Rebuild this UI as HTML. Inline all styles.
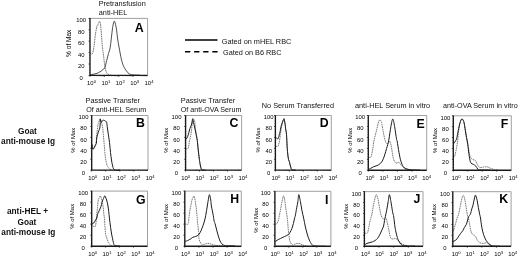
<!DOCTYPE html>
<html><head><meta charset="utf-8"><style>
html,body{margin:0;padding:0;background:#fff;width:520px;height:257px;overflow:hidden}
svg{display:block;filter:blur(0.3px)}
text{font-family:"Liberation Sans", sans-serif;fill:#111}
.ti{font-size:7.3px}
.rl{font-size:8.3px;font-weight:bold}
.pl{font-weight:bold;fill:#000}
.tk{font-size:5.9px;fill:#000}
.sp{font-size:4.2px}
.yl{font-size:6.3px;fill:#000}
.ax{stroke:#111;stroke-width:0.8}
.mt{stroke:#333;stroke-width:0.5}
.fr{fill:none;stroke:#888;stroke-width:0.8}
.axb{fill:none;stroke:#1a1a1a;stroke-width:1.35}
.s{fill:none;stroke:#1a1a1a;stroke-width:1;stroke-linejoin:round}
.d{fill:none;stroke:#555;stroke-width:0.8;stroke-linejoin:round;stroke-dasharray:1.6 0.7}
.sa{fill:none;stroke:#222;stroke-width:0.8;stroke-linejoin:round}
.da{fill:none;stroke:#444;stroke-width:0.75;stroke-linejoin:round;stroke-dasharray:1.6 0.7}
.dd{fill:none;stroke:#222;stroke-width:1.0;stroke-dasharray:2 1.2}
</style></head><body>
<svg width="520" height="257" viewBox="0 0 520 257">

<text x="98.7" y="6" class="ti">Pretransfusion</text>
<text x="98.8" y="14.7" class="ti">anti-HEL</text>
<text x="85.6" y="103" class="ti">Passive Transfer</text>
<text x="86.2" y="111.7" class="ti" style="font-size:7.15px">Of anti-HEL Serum</text>
<text x="180.8" y="103" class="ti">Passive Transfer</text>
<text x="180.8" y="111.7" class="ti" style="font-size:7.15px">Of anti-OVA Serum</text>
<text x="261.8" y="107.7" class="ti">No Serum Transferred</text>
<text x="355" y="107.5" class="ti">anti-HEL Serum in vitro</text>
<text x="443.1" y="107.6" class="ti" style="font-size:7.2px">anti-OVA Serum in vitro</text>
<text x="221.8" y="44.3" class="ti">Gated on mHEL RBC</text>
<text x="223" y="54.8" class="ti">Gated on B6 RBC</text>
<line x1="185" y1="40" x2="217.5" y2="40" stroke="#000" stroke-width="1.6"/>
<line x1="185" y1="51.7" x2="218" y2="51.7" stroke="#000" stroke-width="1.6" stroke-dasharray="5.3 3.8"/>
<text x="27.4" y="133.9" class="rl" text-anchor="middle">Goat</text>
<text x="28" y="144.4" class="rl" text-anchor="middle">anti-mouse Ig</text>
<text x="27.5" y="214.1" class="rl" text-anchor="middle">anti-HEL +</text>
<text x="26.9" y="224.6" class="rl" text-anchor="middle">Goat</text>
<text x="28.3" y="234.5" class="rl" text-anchor="middle">anti-mouse Ig</text>

<text x="81.2" y="79.75" class="tk" text-anchor="middle">0</text>
<text x="81.2" y="68.23" class="tk" text-anchor="middle">20</text>
<text x="81.2" y="56.71" class="tk" text-anchor="middle">40</text>
<text x="81.2" y="45.19" class="tk" text-anchor="middle">60</text>
<text x="81.2" y="33.67" class="tk" text-anchor="middle">80</text>
<text x="81.2" y="22.15" class="tk" text-anchor="middle">100</text>
<line x1="88.6" y1="75.4" x2="90" y2="75.4" class="ax"/>
<line x1="88.6" y1="64" x2="90" y2="64" class="ax"/>
<line x1="88.6" y1="52.6" x2="90" y2="52.6" class="ax"/>
<line x1="88.6" y1="41.2" x2="90" y2="41.2" class="ax"/>
<line x1="88.6" y1="29.8" x2="90" y2="29.8" class="ax"/>
<line x1="88.6" y1="18.4" x2="90" y2="18.4" class="ax"/>
<line x1="89.1" y1="72.55" x2="90" y2="72.55" class="mt"/>
<line x1="89.1" y1="69.7" x2="90" y2="69.7" class="mt"/>
<line x1="89.1" y1="66.85" x2="90" y2="66.85" class="mt"/>
<line x1="89.1" y1="61.15" x2="90" y2="61.15" class="mt"/>
<line x1="89.1" y1="58.3" x2="90" y2="58.3" class="mt"/>
<line x1="89.1" y1="55.45" x2="90" y2="55.45" class="mt"/>
<line x1="89.1" y1="49.75" x2="90" y2="49.75" class="mt"/>
<line x1="89.1" y1="46.9" x2="90" y2="46.9" class="mt"/>
<line x1="89.1" y1="44.05" x2="90" y2="44.05" class="mt"/>
<line x1="89.1" y1="38.35" x2="90" y2="38.35" class="mt"/>
<line x1="89.1" y1="35.5" x2="90" y2="35.5" class="mt"/>
<line x1="89.1" y1="32.65" x2="90" y2="32.65" class="mt"/>
<line x1="89.1" y1="26.95" x2="90" y2="26.95" class="mt"/>
<line x1="89.1" y1="24.1" x2="90" y2="24.1" class="mt"/>
<line x1="89.1" y1="21.25" x2="90" y2="21.25" class="mt"/>
<text x="87.1" y="84.9" class="tk">10<tspan class="sp" dy="-1.7">0</tspan></text>
<text x="101.47" y="84.9" class="tk">10<tspan class="sp" dy="-1.7">1</tspan></text>
<text x="115.85" y="84.9" class="tk">10<tspan class="sp" dy="-1.7">2</tspan></text>
<text x="130.22" y="84.9" class="tk">10<tspan class="sp" dy="-1.7">3</tspan></text>
<text x="144.6" y="84.9" class="tk">10<tspan class="sp" dy="-1.7">4</tspan></text>
<line x1="94.33" y1="75.4" x2="94.33" y2="76.3" class="mt"/>
<line x1="96.87" y1="75.4" x2="96.87" y2="76.3" class="mt"/>
<line x1="98.67" y1="75.4" x2="98.67" y2="76.3" class="mt"/>
<line x1="100.07" y1="75.4" x2="100.07" y2="76.3" class="mt"/>
<line x1="101.21" y1="75.4" x2="101.21" y2="76.3" class="mt"/>
<line x1="102.17" y1="75.4" x2="102.17" y2="76.3" class="mt"/>
<line x1="103" y1="75.4" x2="103" y2="76.3" class="mt"/>
<line x1="103.74" y1="75.4" x2="103.74" y2="76.3" class="mt"/>
<line x1="90" y1="75.4" x2="90" y2="76.8" class="ax"/>
<line x1="108.73" y1="75.4" x2="108.73" y2="76.3" class="mt"/>
<line x1="111.27" y1="75.4" x2="111.27" y2="76.3" class="mt"/>
<line x1="113.07" y1="75.4" x2="113.07" y2="76.3" class="mt"/>
<line x1="114.47" y1="75.4" x2="114.47" y2="76.3" class="mt"/>
<line x1="115.61" y1="75.4" x2="115.61" y2="76.3" class="mt"/>
<line x1="116.57" y1="75.4" x2="116.57" y2="76.3" class="mt"/>
<line x1="117.4" y1="75.4" x2="117.4" y2="76.3" class="mt"/>
<line x1="118.14" y1="75.4" x2="118.14" y2="76.3" class="mt"/>
<line x1="104.4" y1="75.4" x2="104.4" y2="76.8" class="ax"/>
<line x1="123.13" y1="75.4" x2="123.13" y2="76.3" class="mt"/>
<line x1="125.67" y1="75.4" x2="125.67" y2="76.3" class="mt"/>
<line x1="127.47" y1="75.4" x2="127.47" y2="76.3" class="mt"/>
<line x1="128.87" y1="75.4" x2="128.87" y2="76.3" class="mt"/>
<line x1="130.01" y1="75.4" x2="130.01" y2="76.3" class="mt"/>
<line x1="130.97" y1="75.4" x2="130.97" y2="76.3" class="mt"/>
<line x1="131.8" y1="75.4" x2="131.8" y2="76.3" class="mt"/>
<line x1="132.54" y1="75.4" x2="132.54" y2="76.3" class="mt"/>
<line x1="118.8" y1="75.4" x2="118.8" y2="76.8" class="ax"/>
<line x1="137.53" y1="75.4" x2="137.53" y2="76.3" class="mt"/>
<line x1="140.07" y1="75.4" x2="140.07" y2="76.3" class="mt"/>
<line x1="141.87" y1="75.4" x2="141.87" y2="76.3" class="mt"/>
<line x1="143.27" y1="75.4" x2="143.27" y2="76.3" class="mt"/>
<line x1="144.41" y1="75.4" x2="144.41" y2="76.3" class="mt"/>
<line x1="145.37" y1="75.4" x2="145.37" y2="76.3" class="mt"/>
<line x1="146.2" y1="75.4" x2="146.2" y2="76.3" class="mt"/>
<line x1="146.94" y1="75.4" x2="146.94" y2="76.3" class="mt"/>
<line x1="133.2" y1="75.4" x2="133.2" y2="76.8" class="ax"/>
<text x="0" y="0" class="yl" text-anchor="middle" style="font-size:6.55px" transform="translate(71.16,43.25) rotate(-90)">% of Max</text>
<path d="M90 18.4H147.6V75.4" class="fr"/>
<path d="M90 53.5C90.4 53.53 91.73 54.92 92.4 53.7C93.07 52.48 93.48 49.53 94 46.2C94.52 42.87 94.97 37.15 95.5 33.7C96.03 30.25 96.75 27.03 97.2 25.5C97.65 23.97 97.87 25.15 98.2 24.5C98.53 23.85 98.85 21.85 99.2 21.6C99.55 21.35 99.98 21.6 100.3 23C100.62 24.4 100.77 26.23 101.1 30C101.43 33.77 101.88 41.27 102.3 45.6C102.72 49.93 103.18 52.6 103.6 56C104.02 59.4 104.32 63.25 104.8 66C105.28 68.75 105.88 71.07 106.5 72.5C107.12 73.93 107.75 74.15 108.5 74.6C109.25 75.05 110.58 75.1 111 75.2" class="da"/>
<path d="M90 75C90.5 74.88 91.83 74.58 93 74.3C94.17 74.02 95.83 73.72 97 73.3C98.17 72.88 99 72.43 100 71.8C101 71.17 102.2 70.17 103 69.5C103.8 68.83 104.18 69.3 104.8 67.8C105.42 66.3 106.08 62.88 106.7 60.5C107.32 58.12 107.92 55.68 108.5 53.5C109.08 51.32 109.57 51.32 110.2 47.4C110.83 43.48 111.78 33.9 112.3 30C112.82 26.1 112.98 25.47 113.3 24C113.62 22.53 113.88 21.37 114.2 21.2C114.52 21.03 114.8 21.53 115.2 23C115.6 24.47 116.22 27.5 116.6 30C116.98 32.5 117.1 35.17 117.5 38C117.9 40.83 118.53 44.33 119 47C119.47 49.67 119.92 52 120.3 54C120.68 56 120.9 57.33 121.3 59C121.7 60.67 122.23 62.63 122.7 64C123.17 65.37 123.47 66.03 124.1 67.2C124.73 68.37 125.67 69.9 126.5 71C127.33 72.1 128.05 73.15 129.1 73.8C130.15 74.45 130.98 74.67 132.8 74.9C134.62 75.13 138.8 75.15 140 75.2" class="sa"/>
<path d="M90 18.1V75.4H147.6" class="axb"/>
<text x="83.5" y="174.75" class="tk" text-anchor="middle">0</text>
<text x="83.5" y="163.67" class="tk" text-anchor="middle">20</text>
<text x="83.5" y="152.59" class="tk" text-anchor="middle">40</text>
<text x="83.5" y="141.51" class="tk" text-anchor="middle">60</text>
<text x="83.5" y="130.43" class="tk" text-anchor="middle">80</text>
<text x="83.5" y="119.35" class="tk" text-anchor="middle">100</text>
<line x1="90.3" y1="170.1" x2="91.7" y2="170.1" class="ax"/>
<line x1="90.3" y1="159.18" x2="91.7" y2="159.18" class="ax"/>
<line x1="90.3" y1="148.26" x2="91.7" y2="148.26" class="ax"/>
<line x1="90.3" y1="137.34" x2="91.7" y2="137.34" class="ax"/>
<line x1="90.3" y1="126.42" x2="91.7" y2="126.42" class="ax"/>
<line x1="90.3" y1="115.5" x2="91.7" y2="115.5" class="ax"/>
<line x1="90.8" y1="167.37" x2="91.7" y2="167.37" class="mt"/>
<line x1="90.8" y1="164.64" x2="91.7" y2="164.64" class="mt"/>
<line x1="90.8" y1="161.91" x2="91.7" y2="161.91" class="mt"/>
<line x1="90.8" y1="156.45" x2="91.7" y2="156.45" class="mt"/>
<line x1="90.8" y1="153.72" x2="91.7" y2="153.72" class="mt"/>
<line x1="90.8" y1="150.99" x2="91.7" y2="150.99" class="mt"/>
<line x1="90.8" y1="145.53" x2="91.7" y2="145.53" class="mt"/>
<line x1="90.8" y1="142.8" x2="91.7" y2="142.8" class="mt"/>
<line x1="90.8" y1="140.07" x2="91.7" y2="140.07" class="mt"/>
<line x1="90.8" y1="134.61" x2="91.7" y2="134.61" class="mt"/>
<line x1="90.8" y1="131.88" x2="91.7" y2="131.88" class="mt"/>
<line x1="90.8" y1="129.15" x2="91.7" y2="129.15" class="mt"/>
<line x1="90.8" y1="123.69" x2="91.7" y2="123.69" class="mt"/>
<line x1="90.8" y1="120.96" x2="91.7" y2="120.96" class="mt"/>
<line x1="90.8" y1="118.23" x2="91.7" y2="118.23" class="mt"/>
<text x="88.2" y="179.7" class="tk">10<tspan class="sp" dy="-1.7">0</tspan></text>
<text x="102.58" y="179.7" class="tk">10<tspan class="sp" dy="-1.7">1</tspan></text>
<text x="116.95" y="179.7" class="tk">10<tspan class="sp" dy="-1.7">2</tspan></text>
<text x="131.32" y="179.7" class="tk">10<tspan class="sp" dy="-1.7">3</tspan></text>
<text x="145.7" y="179.7" class="tk">10<tspan class="sp" dy="-1.7">4</tspan></text>
<line x1="95.94" y1="170.1" x2="95.94" y2="171" class="mt"/>
<line x1="98.42" y1="170.1" x2="98.42" y2="171" class="mt"/>
<line x1="100.17" y1="170.1" x2="100.17" y2="171" class="mt"/>
<line x1="101.54" y1="170.1" x2="101.54" y2="171" class="mt"/>
<line x1="102.65" y1="170.1" x2="102.65" y2="171" class="mt"/>
<line x1="103.59" y1="170.1" x2="103.59" y2="171" class="mt"/>
<line x1="104.41" y1="170.1" x2="104.41" y2="171" class="mt"/>
<line x1="105.13" y1="170.1" x2="105.13" y2="171" class="mt"/>
<line x1="91.7" y1="170.1" x2="91.7" y2="171.5" class="ax"/>
<line x1="110.01" y1="170.1" x2="110.01" y2="171" class="mt"/>
<line x1="112.49" y1="170.1" x2="112.49" y2="171" class="mt"/>
<line x1="114.25" y1="170.1" x2="114.25" y2="171" class="mt"/>
<line x1="115.61" y1="170.1" x2="115.61" y2="171" class="mt"/>
<line x1="116.73" y1="170.1" x2="116.73" y2="171" class="mt"/>
<line x1="117.67" y1="170.1" x2="117.67" y2="171" class="mt"/>
<line x1="118.49" y1="170.1" x2="118.49" y2="171" class="mt"/>
<line x1="119.21" y1="170.1" x2="119.21" y2="171" class="mt"/>
<line x1="105.78" y1="170.1" x2="105.78" y2="171.5" class="ax"/>
<line x1="124.09" y1="170.1" x2="124.09" y2="171" class="mt"/>
<line x1="126.57" y1="170.1" x2="126.57" y2="171" class="mt"/>
<line x1="128.32" y1="170.1" x2="128.32" y2="171" class="mt"/>
<line x1="129.69" y1="170.1" x2="129.69" y2="171" class="mt"/>
<line x1="130.8" y1="170.1" x2="130.8" y2="171" class="mt"/>
<line x1="131.74" y1="170.1" x2="131.74" y2="171" class="mt"/>
<line x1="132.56" y1="170.1" x2="132.56" y2="171" class="mt"/>
<line x1="133.28" y1="170.1" x2="133.28" y2="171" class="mt"/>
<line x1="119.85" y1="170.1" x2="119.85" y2="171.5" class="ax"/>
<line x1="138.16" y1="170.1" x2="138.16" y2="171" class="mt"/>
<line x1="140.64" y1="170.1" x2="140.64" y2="171" class="mt"/>
<line x1="142.4" y1="170.1" x2="142.4" y2="171" class="mt"/>
<line x1="143.76" y1="170.1" x2="143.76" y2="171" class="mt"/>
<line x1="144.88" y1="170.1" x2="144.88" y2="171" class="mt"/>
<line x1="145.82" y1="170.1" x2="145.82" y2="171" class="mt"/>
<line x1="146.64" y1="170.1" x2="146.64" y2="171" class="mt"/>
<line x1="147.36" y1="170.1" x2="147.36" y2="171" class="mt"/>
<line x1="133.93" y1="170.1" x2="133.93" y2="171.5" class="ax"/>
<text x="0" y="0" class="yl" text-anchor="middle" style="font-size:6px" transform="translate(74.51,140.25) rotate(-90)">% of Max</text>
<path d="M91.7 115.5H148V170.1" class="fr"/>
<path d="M91.9 145C92.08 145.72 92.6 148.88 93 149.3C93.4 149.72 93.88 148.22 94.3 147.5C94.72 146.78 95.17 146.08 95.5 145C95.83 143.92 96.08 142.67 96.3 141C96.52 139.33 96.62 137 96.8 135C96.98 133 97.15 130.93 97.4 129C97.65 127.07 97.98 124.82 98.3 123.4C98.62 121.98 98.98 121.18 99.3 120.5C99.62 119.82 99.88 119.13 100.2 119.3C100.52 119.47 100.87 120.55 101.2 121.5C101.53 122.45 101.95 123.92 102.2 125C102.45 126.08 102.52 126.47 102.7 128C102.88 129.53 103.1 132.03 103.3 134.2C103.5 136.37 103.7 138.7 103.9 141C104.1 143.3 104.28 145.57 104.5 148C104.72 150.43 104.9 153.18 105.2 155.6C105.5 158.02 105.92 160.68 106.3 162.5C106.68 164.32 106.9 165.41 107.5 166.5C108.1 167.59 109.15 168.47 109.9 169.05C110.65 169.62 111.65 169.8 112 169.95" class="d"/>
<path d="M91.9 144C92 144.58 92.32 146.62 92.5 147.5C92.68 148.38 92.72 149.3 93 149.3C93.28 149.3 93.78 148.22 94.2 147.5C94.62 146.78 95.13 145.75 95.5 145C95.87 144.25 96.2 144.17 96.4 143C96.6 141.83 96.48 139.47 96.7 138C96.92 136.53 97.33 135.45 97.7 134.2C98.07 132.95 98.55 131.53 98.9 130.5C99.25 129.47 99.58 129.08 99.8 128C100.02 126.92 100.13 125.5 100.2 124C100.27 122.5 100.1 119.58 100.2 119C100.3 118.42 100.58 119.95 100.8 120.5C101.02 121.05 101.25 122.22 101.5 122.3C101.75 122.38 102 121.35 102.3 121C102.6 120.65 102.93 120.28 103.3 120.2C103.67 120.12 104.13 120.37 104.5 120.5C104.87 120.63 105.23 120.78 105.5 121C105.77 121.22 105.9 121.55 106.1 121.8C106.3 122.05 106.48 121.47 106.7 122.5C106.92 123.53 107.13 126.05 107.4 128C107.67 129.95 108 132.2 108.3 134.2C108.6 136.2 108.95 138.2 109.2 140C109.45 141.8 109.58 142.92 109.8 145C110.02 147.08 110.22 150 110.5 152.5C110.78 155 111.18 157.93 111.5 160C111.82 162.07 111.93 163.28 112.4 164.9C112.87 166.53 113.03 168.89 114.3 169.75C115.57 170.61 119.05 170 120 170.05" class="s"/>
<path d="M91.7 115.2V170.1H148" class="axb"/>
<text x="176.5" y="174.75" class="tk" text-anchor="middle">0</text>
<text x="176.5" y="163.67" class="tk" text-anchor="middle">20</text>
<text x="176.5" y="152.59" class="tk" text-anchor="middle">40</text>
<text x="176.5" y="141.51" class="tk" text-anchor="middle">60</text>
<text x="176.5" y="130.43" class="tk" text-anchor="middle">80</text>
<text x="176.5" y="119.35" class="tk" text-anchor="middle">100</text>
<line x1="184.2" y1="170.1" x2="185.6" y2="170.1" class="ax"/>
<line x1="184.2" y1="159.18" x2="185.6" y2="159.18" class="ax"/>
<line x1="184.2" y1="148.26" x2="185.6" y2="148.26" class="ax"/>
<line x1="184.2" y1="137.34" x2="185.6" y2="137.34" class="ax"/>
<line x1="184.2" y1="126.42" x2="185.6" y2="126.42" class="ax"/>
<line x1="184.2" y1="115.5" x2="185.6" y2="115.5" class="ax"/>
<line x1="184.7" y1="167.37" x2="185.6" y2="167.37" class="mt"/>
<line x1="184.7" y1="164.64" x2="185.6" y2="164.64" class="mt"/>
<line x1="184.7" y1="161.91" x2="185.6" y2="161.91" class="mt"/>
<line x1="184.7" y1="156.45" x2="185.6" y2="156.45" class="mt"/>
<line x1="184.7" y1="153.72" x2="185.6" y2="153.72" class="mt"/>
<line x1="184.7" y1="150.99" x2="185.6" y2="150.99" class="mt"/>
<line x1="184.7" y1="145.53" x2="185.6" y2="145.53" class="mt"/>
<line x1="184.7" y1="142.8" x2="185.6" y2="142.8" class="mt"/>
<line x1="184.7" y1="140.07" x2="185.6" y2="140.07" class="mt"/>
<line x1="184.7" y1="134.61" x2="185.6" y2="134.61" class="mt"/>
<line x1="184.7" y1="131.88" x2="185.6" y2="131.88" class="mt"/>
<line x1="184.7" y1="129.15" x2="185.6" y2="129.15" class="mt"/>
<line x1="184.7" y1="123.69" x2="185.6" y2="123.69" class="mt"/>
<line x1="184.7" y1="120.96" x2="185.6" y2="120.96" class="mt"/>
<line x1="184.7" y1="118.23" x2="185.6" y2="118.23" class="mt"/>
<text x="181.2" y="179.7" class="tk">10<tspan class="sp" dy="-1.7">0</tspan></text>
<text x="195.5" y="179.7" class="tk">10<tspan class="sp" dy="-1.7">1</tspan></text>
<text x="209.8" y="179.7" class="tk">10<tspan class="sp" dy="-1.7">2</tspan></text>
<text x="224.1" y="179.7" class="tk">10<tspan class="sp" dy="-1.7">3</tspan></text>
<text x="238.4" y="179.7" class="tk">10<tspan class="sp" dy="-1.7">4</tspan></text>
<line x1="189.81" y1="170.1" x2="189.81" y2="171" class="mt"/>
<line x1="192.28" y1="170.1" x2="192.28" y2="171" class="mt"/>
<line x1="194.03" y1="170.1" x2="194.03" y2="171" class="mt"/>
<line x1="195.39" y1="170.1" x2="195.39" y2="171" class="mt"/>
<line x1="196.49" y1="170.1" x2="196.49" y2="171" class="mt"/>
<line x1="197.43" y1="170.1" x2="197.43" y2="171" class="mt"/>
<line x1="198.24" y1="170.1" x2="198.24" y2="171" class="mt"/>
<line x1="198.96" y1="170.1" x2="198.96" y2="171" class="mt"/>
<line x1="185.6" y1="170.1" x2="185.6" y2="171.5" class="ax"/>
<line x1="203.81" y1="170.1" x2="203.81" y2="171" class="mt"/>
<line x1="206.28" y1="170.1" x2="206.28" y2="171" class="mt"/>
<line x1="208.03" y1="170.1" x2="208.03" y2="171" class="mt"/>
<line x1="209.39" y1="170.1" x2="209.39" y2="171" class="mt"/>
<line x1="210.49" y1="170.1" x2="210.49" y2="171" class="mt"/>
<line x1="211.43" y1="170.1" x2="211.43" y2="171" class="mt"/>
<line x1="212.24" y1="170.1" x2="212.24" y2="171" class="mt"/>
<line x1="212.96" y1="170.1" x2="212.96" y2="171" class="mt"/>
<line x1="199.6" y1="170.1" x2="199.6" y2="171.5" class="ax"/>
<line x1="217.81" y1="170.1" x2="217.81" y2="171" class="mt"/>
<line x1="220.28" y1="170.1" x2="220.28" y2="171" class="mt"/>
<line x1="222.03" y1="170.1" x2="222.03" y2="171" class="mt"/>
<line x1="223.39" y1="170.1" x2="223.39" y2="171" class="mt"/>
<line x1="224.49" y1="170.1" x2="224.49" y2="171" class="mt"/>
<line x1="225.43" y1="170.1" x2="225.43" y2="171" class="mt"/>
<line x1="226.24" y1="170.1" x2="226.24" y2="171" class="mt"/>
<line x1="226.96" y1="170.1" x2="226.96" y2="171" class="mt"/>
<line x1="213.6" y1="170.1" x2="213.6" y2="171.5" class="ax"/>
<line x1="231.81" y1="170.1" x2="231.81" y2="171" class="mt"/>
<line x1="234.28" y1="170.1" x2="234.28" y2="171" class="mt"/>
<line x1="236.03" y1="170.1" x2="236.03" y2="171" class="mt"/>
<line x1="237.39" y1="170.1" x2="237.39" y2="171" class="mt"/>
<line x1="238.49" y1="170.1" x2="238.49" y2="171" class="mt"/>
<line x1="239.43" y1="170.1" x2="239.43" y2="171" class="mt"/>
<line x1="240.24" y1="170.1" x2="240.24" y2="171" class="mt"/>
<line x1="240.96" y1="170.1" x2="240.96" y2="171" class="mt"/>
<line x1="227.6" y1="170.1" x2="227.6" y2="171.5" class="ax"/>
<text x="0" y="0" class="yl" text-anchor="middle" style="font-size:6px" transform="translate(168.06,140.25) rotate(-90)">% of Max</text>
<path d="M185.6 115.5H241.6V170.1" class="fr"/>
<path d="M185.6 148.9C185.83 148.85 186.56 148.71 187 148.6C187.44 148.49 187.93 148.93 188.25 148.25C188.57 147.57 188.72 145.54 188.9 144.5C189.08 143.46 189.08 143.08 189.3 142C189.52 140.92 189.96 139.08 190.2 138C190.44 136.92 190.55 136.65 190.75 135.5C190.95 134.35 191.19 132.68 191.4 131.1C191.61 129.52 191.78 127.77 192 126C192.22 124.23 192.45 121.67 192.7 120.5C192.95 119.33 193.2 119.03 193.5 119C193.8 118.97 194.25 119.47 194.5 120.3C194.75 121.13 194.85 122.65 195 124C195.15 125.35 195.18 126.69 195.4 128.4C195.62 130.11 195.98 132.23 196.3 134.25C196.62 136.27 197.07 138.88 197.3 140.5C197.53 142.12 197.53 142.4 197.7 144C197.87 145.6 198.05 147.77 198.3 150.1C198.55 152.43 198.95 155.97 199.2 158C199.45 160.03 199.54 160.71 199.8 162.25C200.06 163.79 200.38 165.98 200.75 167.25C201.12 168.52 201.46 169.37 202 169.85C202.54 170.33 203.67 170.1 204 170.15" class="d"/>
<path d="M185.4 138.5C185.52 138.58 185.73 139.29 186.1 139C186.47 138.71 187.13 137.85 187.6 136.75C188.07 135.65 188.52 133.78 188.9 132.4C189.28 131.03 189.48 129.73 189.9 128.5C190.32 127.27 191.02 126.25 191.4 125C191.78 123.75 192 122.05 192.2 121C192.4 119.95 192.42 118.7 192.6 118.7C192.78 118.7 193.03 120.12 193.25 121C193.47 121.88 193.64 122.83 193.9 124C194.16 125.17 194.43 126.29 194.8 128C195.17 129.71 195.68 132.17 196.1 134.25C196.52 136.33 197.05 138.88 197.3 140.5C197.55 142.12 197.44 142.4 197.6 144C197.76 145.6 197.98 147.77 198.25 150.1C198.52 152.43 198.94 155.97 199.2 158C199.46 160.03 199.54 160.71 199.8 162.25C200.06 163.79 200.38 165.98 200.75 167.25C201.12 168.52 201.12 169.37 202 169.85C202.88 170.33 205.33 170.1 206 170.15" class="s"/>
<path d="M185.6 115.2V170.1H241.6" class="axb"/>
<text x="268.7" y="174.75" class="tk" text-anchor="middle">0</text>
<text x="268.7" y="163.67" class="tk" text-anchor="middle">20</text>
<text x="268.7" y="152.59" class="tk" text-anchor="middle">40</text>
<text x="268.7" y="141.51" class="tk" text-anchor="middle">60</text>
<text x="268.7" y="130.43" class="tk" text-anchor="middle">80</text>
<text x="268.7" y="119.35" class="tk" text-anchor="middle">100</text>
<line x1="274" y1="170.1" x2="275.4" y2="170.1" class="ax"/>
<line x1="274" y1="159.18" x2="275.4" y2="159.18" class="ax"/>
<line x1="274" y1="148.26" x2="275.4" y2="148.26" class="ax"/>
<line x1="274" y1="137.34" x2="275.4" y2="137.34" class="ax"/>
<line x1="274" y1="126.42" x2="275.4" y2="126.42" class="ax"/>
<line x1="274" y1="115.5" x2="275.4" y2="115.5" class="ax"/>
<line x1="274.5" y1="167.37" x2="275.4" y2="167.37" class="mt"/>
<line x1="274.5" y1="164.64" x2="275.4" y2="164.64" class="mt"/>
<line x1="274.5" y1="161.91" x2="275.4" y2="161.91" class="mt"/>
<line x1="274.5" y1="156.45" x2="275.4" y2="156.45" class="mt"/>
<line x1="274.5" y1="153.72" x2="275.4" y2="153.72" class="mt"/>
<line x1="274.5" y1="150.99" x2="275.4" y2="150.99" class="mt"/>
<line x1="274.5" y1="145.53" x2="275.4" y2="145.53" class="mt"/>
<line x1="274.5" y1="142.8" x2="275.4" y2="142.8" class="mt"/>
<line x1="274.5" y1="140.07" x2="275.4" y2="140.07" class="mt"/>
<line x1="274.5" y1="134.61" x2="275.4" y2="134.61" class="mt"/>
<line x1="274.5" y1="131.88" x2="275.4" y2="131.88" class="mt"/>
<line x1="274.5" y1="129.15" x2="275.4" y2="129.15" class="mt"/>
<line x1="274.5" y1="123.69" x2="275.4" y2="123.69" class="mt"/>
<line x1="274.5" y1="120.96" x2="275.4" y2="120.96" class="mt"/>
<line x1="274.5" y1="118.23" x2="275.4" y2="118.23" class="mt"/>
<text x="271.5" y="179.7" class="tk">10<tspan class="sp" dy="-1.7">0</tspan></text>
<text x="285.75" y="179.7" class="tk">10<tspan class="sp" dy="-1.7">1</tspan></text>
<text x="300" y="179.7" class="tk">10<tspan class="sp" dy="-1.7">2</tspan></text>
<text x="314.25" y="179.7" class="tk">10<tspan class="sp" dy="-1.7">3</tspan></text>
<text x="328.5" y="179.7" class="tk">10<tspan class="sp" dy="-1.7">4</tspan></text>
<line x1="279.61" y1="170.1" x2="279.61" y2="171" class="mt"/>
<line x1="282.07" y1="170.1" x2="282.07" y2="171" class="mt"/>
<line x1="283.81" y1="170.1" x2="283.81" y2="171" class="mt"/>
<line x1="285.17" y1="170.1" x2="285.17" y2="171" class="mt"/>
<line x1="286.27" y1="170.1" x2="286.27" y2="171" class="mt"/>
<line x1="287.21" y1="170.1" x2="287.21" y2="171" class="mt"/>
<line x1="288.02" y1="170.1" x2="288.02" y2="171" class="mt"/>
<line x1="288.74" y1="170.1" x2="288.74" y2="171" class="mt"/>
<line x1="275.4" y1="170.1" x2="275.4" y2="171.5" class="ax"/>
<line x1="293.58" y1="170.1" x2="293.58" y2="171" class="mt"/>
<line x1="296.04" y1="170.1" x2="296.04" y2="171" class="mt"/>
<line x1="297.79" y1="170.1" x2="297.79" y2="171" class="mt"/>
<line x1="299.14" y1="170.1" x2="299.14" y2="171" class="mt"/>
<line x1="300.25" y1="170.1" x2="300.25" y2="171" class="mt"/>
<line x1="301.19" y1="170.1" x2="301.19" y2="171" class="mt"/>
<line x1="302" y1="170.1" x2="302" y2="171" class="mt"/>
<line x1="302.71" y1="170.1" x2="302.71" y2="171" class="mt"/>
<line x1="289.38" y1="170.1" x2="289.38" y2="171.5" class="ax"/>
<line x1="307.56" y1="170.1" x2="307.56" y2="171" class="mt"/>
<line x1="310.02" y1="170.1" x2="310.02" y2="171" class="mt"/>
<line x1="311.76" y1="170.1" x2="311.76" y2="171" class="mt"/>
<line x1="313.12" y1="170.1" x2="313.12" y2="171" class="mt"/>
<line x1="314.22" y1="170.1" x2="314.22" y2="171" class="mt"/>
<line x1="315.16" y1="170.1" x2="315.16" y2="171" class="mt"/>
<line x1="315.97" y1="170.1" x2="315.97" y2="171" class="mt"/>
<line x1="316.69" y1="170.1" x2="316.69" y2="171" class="mt"/>
<line x1="303.35" y1="170.1" x2="303.35" y2="171.5" class="ax"/>
<line x1="321.53" y1="170.1" x2="321.53" y2="171" class="mt"/>
<line x1="323.99" y1="170.1" x2="323.99" y2="171" class="mt"/>
<line x1="325.74" y1="170.1" x2="325.74" y2="171" class="mt"/>
<line x1="327.09" y1="170.1" x2="327.09" y2="171" class="mt"/>
<line x1="328.2" y1="170.1" x2="328.2" y2="171" class="mt"/>
<line x1="329.14" y1="170.1" x2="329.14" y2="171" class="mt"/>
<line x1="329.95" y1="170.1" x2="329.95" y2="171" class="mt"/>
<line x1="330.66" y1="170.1" x2="330.66" y2="171" class="mt"/>
<line x1="317.32" y1="170.1" x2="317.32" y2="171.5" class="ax"/>
<text x="0" y="0" class="yl" text-anchor="middle" style="font-size:6px" transform="translate(259.76,140.1) rotate(-90)">% of Max</text>
<path d="M275.4 115.5H331.3V170.1" class="fr"/>
<path d="M275.4 146.5C275.67 146.47 276.52 146.38 277 146.3C277.48 146.22 278 146.38 278.3 146C278.6 145.62 278.6 144.83 278.8 144C279 143.17 279.23 142.58 279.5 141C279.77 139.42 280.15 136.33 280.4 134.5C280.65 132.67 280.73 131.67 281 130C281.27 128.33 281.58 126.25 282 124.5C282.42 122.75 283.12 120.17 283.5 119.5C283.88 118.83 284.05 119.75 284.3 120.5C284.55 121.25 284.78 122.75 285 124C285.22 125.25 285.38 126.5 285.6 128C285.82 129.5 286.12 131.33 286.3 133C286.48 134.67 286.58 136.17 286.7 138C286.82 139.83 286.88 142 287 144C287.12 146 287.18 147.67 287.4 150C287.62 152.33 287.95 155.92 288.3 158C288.65 160.08 289.08 160.95 289.5 162.5C289.92 164.05 290.35 166.08 290.8 167.3C291.25 168.53 291.5 169.38 292.2 169.85C292.9 170.32 294.53 170.1 295 170.15" class="d"/>
<path d="M275.4 137.5C275.62 137.58 276.33 137.75 276.7 138C277.07 138.25 277.28 139.1 277.6 139C277.92 138.9 278.33 138.08 278.6 137.4C278.87 136.72 278.95 135.84 279.2 134.9C279.45 133.96 279.84 132.98 280.1 131.75C280.36 130.52 280.43 128.89 280.75 127.5C281.07 126.11 281.48 124.87 282 123.4C282.52 121.93 283.52 119.27 283.9 118.7C284.28 118.13 284.15 119.43 284.3 120C284.45 120.57 284.62 121.02 284.8 122.1C284.98 123.18 285.24 125.18 285.4 126.5C285.56 127.82 285.58 128.97 285.75 130C285.92 131.03 286.24 131.47 286.4 132.7C286.56 133.93 286.6 135.52 286.7 137.4C286.8 139.28 286.9 141.98 287 144C287.1 146.02 287.09 147.17 287.3 149.5C287.51 151.83 287.88 155.88 288.25 158C288.62 160.12 289.08 160.71 289.5 162.25C289.92 163.79 290.33 165.98 290.75 167.25C291.17 168.52 291.12 169.37 292 169.85C292.88 170.33 295.33 170.1 296 170.15" class="s"/>
<path d="M275.4 115.2V170.1H331.3" class="axb"/>
<text x="360.2" y="174.85" class="tk" text-anchor="middle">0</text>
<text x="360.2" y="163.75" class="tk" text-anchor="middle">20</text>
<text x="360.2" y="152.65" class="tk" text-anchor="middle">40</text>
<text x="360.2" y="141.55" class="tk" text-anchor="middle">60</text>
<text x="360.2" y="130.45" class="tk" text-anchor="middle">80</text>
<text x="360.2" y="119.35" class="tk" text-anchor="middle">100</text>
<line x1="366.9" y1="170.2" x2="368.3" y2="170.2" class="ax"/>
<line x1="366.9" y1="159.26" x2="368.3" y2="159.26" class="ax"/>
<line x1="366.9" y1="148.32" x2="368.3" y2="148.32" class="ax"/>
<line x1="366.9" y1="137.38" x2="368.3" y2="137.38" class="ax"/>
<line x1="366.9" y1="126.44" x2="368.3" y2="126.44" class="ax"/>
<line x1="366.9" y1="115.5" x2="368.3" y2="115.5" class="ax"/>
<line x1="367.4" y1="167.46" x2="368.3" y2="167.46" class="mt"/>
<line x1="367.4" y1="164.73" x2="368.3" y2="164.73" class="mt"/>
<line x1="367.4" y1="162" x2="368.3" y2="162" class="mt"/>
<line x1="367.4" y1="156.52" x2="368.3" y2="156.52" class="mt"/>
<line x1="367.4" y1="153.79" x2="368.3" y2="153.79" class="mt"/>
<line x1="367.4" y1="151.06" x2="368.3" y2="151.06" class="mt"/>
<line x1="367.4" y1="145.58" x2="368.3" y2="145.58" class="mt"/>
<line x1="367.4" y1="142.85" x2="368.3" y2="142.85" class="mt"/>
<line x1="367.4" y1="140.11" x2="368.3" y2="140.11" class="mt"/>
<line x1="367.4" y1="134.64" x2="368.3" y2="134.64" class="mt"/>
<line x1="367.4" y1="131.91" x2="368.3" y2="131.91" class="mt"/>
<line x1="367.4" y1="129.18" x2="368.3" y2="129.18" class="mt"/>
<line x1="367.4" y1="123.7" x2="368.3" y2="123.7" class="mt"/>
<line x1="367.4" y1="120.97" x2="368.3" y2="120.97" class="mt"/>
<line x1="367.4" y1="118.23" x2="368.3" y2="118.23" class="mt"/>
<text x="365.4" y="179.8" class="tk">10<tspan class="sp" dy="-1.7">0</tspan></text>
<text x="379.6" y="179.8" class="tk">10<tspan class="sp" dy="-1.7">1</tspan></text>
<text x="393.8" y="179.8" class="tk">10<tspan class="sp" dy="-1.7">2</tspan></text>
<text x="408" y="179.8" class="tk">10<tspan class="sp" dy="-1.7">3</tspan></text>
<text x="422.2" y="179.8" class="tk">10<tspan class="sp" dy="-1.7">4</tspan></text>
<line x1="372.7" y1="170.2" x2="372.7" y2="171.1" class="mt"/>
<line x1="375.27" y1="170.2" x2="375.27" y2="171.1" class="mt"/>
<line x1="377.09" y1="170.2" x2="377.09" y2="171.1" class="mt"/>
<line x1="378.5" y1="170.2" x2="378.5" y2="171.1" class="mt"/>
<line x1="379.66" y1="170.2" x2="379.66" y2="171.1" class="mt"/>
<line x1="380.64" y1="170.2" x2="380.64" y2="171.1" class="mt"/>
<line x1="381.49" y1="170.2" x2="381.49" y2="171.1" class="mt"/>
<line x1="382.23" y1="170.2" x2="382.23" y2="171.1" class="mt"/>
<line x1="368.3" y1="170.2" x2="368.3" y2="171.6" class="ax"/>
<line x1="387.3" y1="170.2" x2="387.3" y2="171.1" class="mt"/>
<line x1="389.87" y1="170.2" x2="389.87" y2="171.1" class="mt"/>
<line x1="391.69" y1="170.2" x2="391.69" y2="171.1" class="mt"/>
<line x1="393.1" y1="170.2" x2="393.1" y2="171.1" class="mt"/>
<line x1="394.26" y1="170.2" x2="394.26" y2="171.1" class="mt"/>
<line x1="395.24" y1="170.2" x2="395.24" y2="171.1" class="mt"/>
<line x1="396.09" y1="170.2" x2="396.09" y2="171.1" class="mt"/>
<line x1="396.83" y1="170.2" x2="396.83" y2="171.1" class="mt"/>
<line x1="382.9" y1="170.2" x2="382.9" y2="171.6" class="ax"/>
<line x1="401.9" y1="170.2" x2="401.9" y2="171.1" class="mt"/>
<line x1="404.47" y1="170.2" x2="404.47" y2="171.1" class="mt"/>
<line x1="406.29" y1="170.2" x2="406.29" y2="171.1" class="mt"/>
<line x1="407.7" y1="170.2" x2="407.7" y2="171.1" class="mt"/>
<line x1="408.86" y1="170.2" x2="408.86" y2="171.1" class="mt"/>
<line x1="409.84" y1="170.2" x2="409.84" y2="171.1" class="mt"/>
<line x1="410.69" y1="170.2" x2="410.69" y2="171.1" class="mt"/>
<line x1="411.43" y1="170.2" x2="411.43" y2="171.1" class="mt"/>
<line x1="397.5" y1="170.2" x2="397.5" y2="171.6" class="ax"/>
<line x1="416.5" y1="170.2" x2="416.5" y2="171.1" class="mt"/>
<line x1="419.07" y1="170.2" x2="419.07" y2="171.1" class="mt"/>
<line x1="420.89" y1="170.2" x2="420.89" y2="171.1" class="mt"/>
<line x1="422.3" y1="170.2" x2="422.3" y2="171.1" class="mt"/>
<line x1="423.46" y1="170.2" x2="423.46" y2="171.1" class="mt"/>
<line x1="424.44" y1="170.2" x2="424.44" y2="171.1" class="mt"/>
<line x1="425.29" y1="170.2" x2="425.29" y2="171.1" class="mt"/>
<line x1="426.03" y1="170.2" x2="426.03" y2="171.1" class="mt"/>
<line x1="412.1" y1="170.2" x2="412.1" y2="171.6" class="ax"/>
<text x="0" y="0" class="yl" text-anchor="middle" style="font-size:6px" transform="translate(351.66,140.3) rotate(-90)">% of Max</text>
<path d="M368.3 115.5H426.7V170.2" class="fr"/>
<path d="M368.3 157.4C368.75 157.3 370.25 158.25 371 156.8C371.75 155.35 372.28 151.5 372.8 148.7C373.32 145.9 373.47 143.08 374.1 140C374.73 136.92 375.9 133.03 376.6 130.2C377.3 127.37 377.85 124.65 378.3 123C378.75 121.35 378.98 120.82 379.3 120.3C379.62 119.78 379.88 119.7 380.2 119.9C380.52 120.1 380.92 120.82 381.2 121.5C381.48 122.18 381.53 122.13 381.9 124C382.27 125.87 382.83 129.87 383.4 132.7C383.97 135.53 384.78 139.2 385.3 141C385.82 142.8 386.13 143 386.5 143.5C386.87 144 387.18 144.17 387.5 144C387.82 143.83 388.07 143 388.4 142.5C388.73 142 389.15 140.92 389.5 141C389.85 141.08 390.17 141.92 390.5 143C390.83 144.08 391.02 144.88 391.5 147.5C391.98 150.12 392.67 156.12 393.4 158.7C394.13 161.28 395.07 162.38 395.9 163C396.73 163.62 397.68 162.28 398.4 162.4C399.12 162.52 399.6 163.1 400.2 163.7C400.8 164.3 401.2 165.16 402 166C402.8 166.84 403.67 168.12 405 168.75C406.33 169.38 409.17 169.58 410 169.75" class="d"/>
<path d="M368.3 169.75C369.17 169.26 371.8 167.61 373.5 166.8C375.2 165.99 377.05 165.83 378.5 164.9C379.95 163.97 381.17 162.87 382.2 161.2C383.23 159.53 383.98 156.98 384.7 154.9C385.42 152.82 385.98 150.45 386.5 148.7C387.02 146.95 387.38 146.03 387.8 144.4C388.22 142.77 388.48 141.88 389 138.9C389.52 135.92 390.27 129.82 390.9 126.5C391.53 123.18 392.18 119 392.8 119C393.42 119 393.98 123.18 394.6 126.5C395.22 129.82 396.08 136.48 396.5 138.9C396.92 141.32 396.68 138.73 397.1 141C397.52 143.27 398.37 149.13 399 152.5C399.63 155.87 400.17 158.82 400.9 161.2C401.63 163.58 402.37 165.49 403.4 166.8C404.43 168.11 405.65 168.52 407.1 169.05C408.55 169.57 409.95 169.78 412.1 169.95C414.25 170.12 418.68 170.03 420 170.05" class="s"/>
<path d="M368.3 115.2V170.2H426.7" class="axb"/>
<text x="445.4" y="174.85" class="tk" text-anchor="middle">0</text>
<text x="445.4" y="163.81" class="tk" text-anchor="middle">20</text>
<text x="445.4" y="152.77" class="tk" text-anchor="middle">40</text>
<text x="445.4" y="141.73" class="tk" text-anchor="middle">60</text>
<text x="445.4" y="130.69" class="tk" text-anchor="middle">80</text>
<text x="445.4" y="119.65" class="tk" text-anchor="middle">100</text>
<line x1="451.9" y1="170.2" x2="453.3" y2="170.2" class="ax"/>
<line x1="451.9" y1="159.32" x2="453.3" y2="159.32" class="ax"/>
<line x1="451.9" y1="148.44" x2="453.3" y2="148.44" class="ax"/>
<line x1="451.9" y1="137.56" x2="453.3" y2="137.56" class="ax"/>
<line x1="451.9" y1="126.68" x2="453.3" y2="126.68" class="ax"/>
<line x1="451.9" y1="115.8" x2="453.3" y2="115.8" class="ax"/>
<line x1="452.4" y1="167.48" x2="453.3" y2="167.48" class="mt"/>
<line x1="452.4" y1="164.76" x2="453.3" y2="164.76" class="mt"/>
<line x1="452.4" y1="162.04" x2="453.3" y2="162.04" class="mt"/>
<line x1="452.4" y1="156.6" x2="453.3" y2="156.6" class="mt"/>
<line x1="452.4" y1="153.88" x2="453.3" y2="153.88" class="mt"/>
<line x1="452.4" y1="151.16" x2="453.3" y2="151.16" class="mt"/>
<line x1="452.4" y1="145.72" x2="453.3" y2="145.72" class="mt"/>
<line x1="452.4" y1="143" x2="453.3" y2="143" class="mt"/>
<line x1="452.4" y1="140.28" x2="453.3" y2="140.28" class="mt"/>
<line x1="452.4" y1="134.84" x2="453.3" y2="134.84" class="mt"/>
<line x1="452.4" y1="132.12" x2="453.3" y2="132.12" class="mt"/>
<line x1="452.4" y1="129.4" x2="453.3" y2="129.4" class="mt"/>
<line x1="452.4" y1="123.96" x2="453.3" y2="123.96" class="mt"/>
<line x1="452.4" y1="121.24" x2="453.3" y2="121.24" class="mt"/>
<line x1="452.4" y1="118.52" x2="453.3" y2="118.52" class="mt"/>
<text x="451.8" y="179.8" class="tk">10<tspan class="sp" dy="-1.7">0</tspan></text>
<text x="466.05" y="179.8" class="tk">10<tspan class="sp" dy="-1.7">1</tspan></text>
<text x="480.3" y="179.8" class="tk">10<tspan class="sp" dy="-1.7">2</tspan></text>
<text x="494.55" y="179.8" class="tk">10<tspan class="sp" dy="-1.7">3</tspan></text>
<text x="508.8" y="179.8" class="tk">10<tspan class="sp" dy="-1.7">4</tspan></text>
<line x1="457.66" y1="170.2" x2="457.66" y2="171.1" class="mt"/>
<line x1="460.22" y1="170.2" x2="460.22" y2="171.1" class="mt"/>
<line x1="462.03" y1="170.2" x2="462.03" y2="171.1" class="mt"/>
<line x1="463.44" y1="170.2" x2="463.44" y2="171.1" class="mt"/>
<line x1="464.58" y1="170.2" x2="464.58" y2="171.1" class="mt"/>
<line x1="465.55" y1="170.2" x2="465.55" y2="171.1" class="mt"/>
<line x1="466.39" y1="170.2" x2="466.39" y2="171.1" class="mt"/>
<line x1="467.14" y1="170.2" x2="467.14" y2="171.1" class="mt"/>
<line x1="453.3" y1="170.2" x2="453.3" y2="171.6" class="ax"/>
<line x1="472.16" y1="170.2" x2="472.16" y2="171.1" class="mt"/>
<line x1="474.72" y1="170.2" x2="474.72" y2="171.1" class="mt"/>
<line x1="476.53" y1="170.2" x2="476.53" y2="171.1" class="mt"/>
<line x1="477.94" y1="170.2" x2="477.94" y2="171.1" class="mt"/>
<line x1="479.08" y1="170.2" x2="479.08" y2="171.1" class="mt"/>
<line x1="480.05" y1="170.2" x2="480.05" y2="171.1" class="mt"/>
<line x1="480.89" y1="170.2" x2="480.89" y2="171.1" class="mt"/>
<line x1="481.64" y1="170.2" x2="481.64" y2="171.1" class="mt"/>
<line x1="467.8" y1="170.2" x2="467.8" y2="171.6" class="ax"/>
<line x1="486.66" y1="170.2" x2="486.66" y2="171.1" class="mt"/>
<line x1="489.22" y1="170.2" x2="489.22" y2="171.1" class="mt"/>
<line x1="491.03" y1="170.2" x2="491.03" y2="171.1" class="mt"/>
<line x1="492.44" y1="170.2" x2="492.44" y2="171.1" class="mt"/>
<line x1="493.58" y1="170.2" x2="493.58" y2="171.1" class="mt"/>
<line x1="494.55" y1="170.2" x2="494.55" y2="171.1" class="mt"/>
<line x1="495.39" y1="170.2" x2="495.39" y2="171.1" class="mt"/>
<line x1="496.14" y1="170.2" x2="496.14" y2="171.1" class="mt"/>
<line x1="482.3" y1="170.2" x2="482.3" y2="171.6" class="ax"/>
<line x1="501.16" y1="170.2" x2="501.16" y2="171.1" class="mt"/>
<line x1="503.72" y1="170.2" x2="503.72" y2="171.1" class="mt"/>
<line x1="505.53" y1="170.2" x2="505.53" y2="171.1" class="mt"/>
<line x1="506.94" y1="170.2" x2="506.94" y2="171.1" class="mt"/>
<line x1="508.08" y1="170.2" x2="508.08" y2="171.1" class="mt"/>
<line x1="509.05" y1="170.2" x2="509.05" y2="171.1" class="mt"/>
<line x1="509.89" y1="170.2" x2="509.89" y2="171.1" class="mt"/>
<line x1="510.64" y1="170.2" x2="510.64" y2="171.1" class="mt"/>
<line x1="496.8" y1="170.2" x2="496.8" y2="171.6" class="ax"/>
<text x="0" y="0" class="yl" text-anchor="middle" style="font-size:6px" transform="translate(436.56,140.4) rotate(-90)">% of Max</text>
<path d="M453.3 115.8H511.3V170.2" class="fr"/>
<path d="M453.4 156.5C453.62 156.45 454.17 157.7 454.7 156.2C455.23 154.7 456.08 150.2 456.6 147.5C457.12 144.8 457.48 142.58 457.8 140C458.12 137.42 458.22 134.5 458.5 132C458.78 129.5 459.08 127 459.5 125C459.92 123 460.58 120.95 461 120C461.42 119.05 461.58 119.13 462 119.3C462.42 119.47 463 119.55 463.5 121C464 122.45 464.55 125.5 465 128C465.45 130.5 465.8 133.5 466.2 136C466.6 138.5 467.03 141.08 467.4 143C467.77 144.92 468.02 145.5 468.4 147.5C468.78 149.5 469.18 153.13 469.7 155C470.22 156.87 470.78 157.88 471.5 158.7C472.22 159.52 473.27 159.48 474 159.9C474.73 160.32 475.37 160.47 475.9 161.2C476.43 161.93 476.58 163.27 477.2 164.3C477.82 165.33 478.57 166.93 479.6 167.4C480.63 167.87 482.15 167.2 483.4 167.1C484.65 167 485.85 166.58 487.1 166.8C488.35 167.03 489.65 167.96 490.9 168.45C492.15 168.94 493.42 169.48 494.6 169.75C495.78 170.02 497.43 170 498 170.05" class="d"/>
<path d="M453.4 143.5C453.52 143.47 453.77 143.72 454.1 143.3C454.43 142.88 454.98 141.73 455.4 141C455.82 140.27 456.2 140.28 456.6 138.9C457 137.52 457.28 135.18 457.8 132.7C458.32 130.22 459.17 126.12 459.7 124C460.23 121.88 460.62 120.83 461 120C461.38 119.17 461.67 119.03 462 119C462.33 118.97 462.65 119.18 463 119.8C463.35 120.42 463.72 120.97 464.1 122.7C464.48 124.43 464.88 127.7 465.3 130.2C465.72 132.7 466.18 135.42 466.6 137.7C467.02 139.98 467.5 141.85 467.8 143.9C468.1 145.95 468.08 147.53 468.4 150C468.72 152.47 469.28 156.53 469.7 158.7C470.12 160.87 470.28 162.07 470.9 163C471.52 163.93 472.57 163.77 473.4 164.3C474.23 164.83 475.17 165.41 475.9 166.2C476.63 166.99 477.18 168.42 477.8 169.05C478.42 169.67 477.57 169.78 479.6 169.95C481.63 170.12 488.27 170.03 490 170.05" class="s"/>
<path d="M453.3 115.5V170.2H511.3" class="axb"/>
<text x="83.1" y="249.9" class="tk" text-anchor="middle">0</text>
<text x="83.1" y="238.97" class="tk" text-anchor="middle">20</text>
<text x="83.1" y="228.04" class="tk" text-anchor="middle">40</text>
<text x="83.1" y="217.11" class="tk" text-anchor="middle">60</text>
<text x="83.1" y="206.18" class="tk" text-anchor="middle">80</text>
<text x="83.1" y="195.25" class="tk" text-anchor="middle">100</text>
<line x1="90.3" y1="246.2" x2="91.7" y2="246.2" class="ax"/>
<line x1="90.3" y1="235.18" x2="91.7" y2="235.18" class="ax"/>
<line x1="90.3" y1="224.16" x2="91.7" y2="224.16" class="ax"/>
<line x1="90.3" y1="213.14" x2="91.7" y2="213.14" class="ax"/>
<line x1="90.3" y1="202.12" x2="91.7" y2="202.12" class="ax"/>
<line x1="90.3" y1="191.1" x2="91.7" y2="191.1" class="ax"/>
<line x1="90.8" y1="243.44" x2="91.7" y2="243.44" class="mt"/>
<line x1="90.8" y1="240.69" x2="91.7" y2="240.69" class="mt"/>
<line x1="90.8" y1="237.94" x2="91.7" y2="237.94" class="mt"/>
<line x1="90.8" y1="232.42" x2="91.7" y2="232.42" class="mt"/>
<line x1="90.8" y1="229.67" x2="91.7" y2="229.67" class="mt"/>
<line x1="90.8" y1="226.91" x2="91.7" y2="226.91" class="mt"/>
<line x1="90.8" y1="221.41" x2="91.7" y2="221.41" class="mt"/>
<line x1="90.8" y1="218.65" x2="91.7" y2="218.65" class="mt"/>
<line x1="90.8" y1="215.89" x2="91.7" y2="215.89" class="mt"/>
<line x1="90.8" y1="210.38" x2="91.7" y2="210.38" class="mt"/>
<line x1="90.8" y1="207.63" x2="91.7" y2="207.63" class="mt"/>
<line x1="90.8" y1="204.88" x2="91.7" y2="204.88" class="mt"/>
<line x1="90.8" y1="199.37" x2="91.7" y2="199.37" class="mt"/>
<line x1="90.8" y1="196.61" x2="91.7" y2="196.61" class="mt"/>
<line x1="90.8" y1="193.85" x2="91.7" y2="193.85" class="mt"/>
<text x="88.2" y="255.65" class="tk">10<tspan class="sp" dy="-1.7">0</tspan></text>
<text x="102.58" y="255.65" class="tk">10<tspan class="sp" dy="-1.7">1</tspan></text>
<text x="116.95" y="255.65" class="tk">10<tspan class="sp" dy="-1.7">2</tspan></text>
<text x="131.32" y="255.65" class="tk">10<tspan class="sp" dy="-1.7">3</tspan></text>
<text x="145.7" y="255.65" class="tk">10<tspan class="sp" dy="-1.7">4</tspan></text>
<line x1="95.9" y1="246.2" x2="95.9" y2="247.1" class="mt"/>
<line x1="98.36" y1="246.2" x2="98.36" y2="247.1" class="mt"/>
<line x1="100.1" y1="246.2" x2="100.1" y2="247.1" class="mt"/>
<line x1="101.45" y1="246.2" x2="101.45" y2="247.1" class="mt"/>
<line x1="102.56" y1="246.2" x2="102.56" y2="247.1" class="mt"/>
<line x1="103.49" y1="246.2" x2="103.49" y2="247.1" class="mt"/>
<line x1="104.3" y1="246.2" x2="104.3" y2="247.1" class="mt"/>
<line x1="105.01" y1="246.2" x2="105.01" y2="247.1" class="mt"/>
<line x1="91.7" y1="246.2" x2="91.7" y2="247.6" class="ax"/>
<line x1="109.85" y1="246.2" x2="109.85" y2="247.1" class="mt"/>
<line x1="112.31" y1="246.2" x2="112.31" y2="247.1" class="mt"/>
<line x1="114.05" y1="246.2" x2="114.05" y2="247.1" class="mt"/>
<line x1="115.4" y1="246.2" x2="115.4" y2="247.1" class="mt"/>
<line x1="116.51" y1="246.2" x2="116.51" y2="247.1" class="mt"/>
<line x1="117.44" y1="246.2" x2="117.44" y2="247.1" class="mt"/>
<line x1="118.25" y1="246.2" x2="118.25" y2="247.1" class="mt"/>
<line x1="118.96" y1="246.2" x2="118.96" y2="247.1" class="mt"/>
<line x1="105.65" y1="246.2" x2="105.65" y2="247.6" class="ax"/>
<line x1="123.8" y1="246.2" x2="123.8" y2="247.1" class="mt"/>
<line x1="126.26" y1="246.2" x2="126.26" y2="247.1" class="mt"/>
<line x1="128" y1="246.2" x2="128" y2="247.1" class="mt"/>
<line x1="129.35" y1="246.2" x2="129.35" y2="247.1" class="mt"/>
<line x1="130.46" y1="246.2" x2="130.46" y2="247.1" class="mt"/>
<line x1="131.39" y1="246.2" x2="131.39" y2="247.1" class="mt"/>
<line x1="132.2" y1="246.2" x2="132.2" y2="247.1" class="mt"/>
<line x1="132.91" y1="246.2" x2="132.91" y2="247.1" class="mt"/>
<line x1="119.6" y1="246.2" x2="119.6" y2="247.6" class="ax"/>
<line x1="137.75" y1="246.2" x2="137.75" y2="247.1" class="mt"/>
<line x1="140.21" y1="246.2" x2="140.21" y2="247.1" class="mt"/>
<line x1="141.95" y1="246.2" x2="141.95" y2="247.1" class="mt"/>
<line x1="143.3" y1="246.2" x2="143.3" y2="247.1" class="mt"/>
<line x1="144.41" y1="246.2" x2="144.41" y2="247.1" class="mt"/>
<line x1="145.34" y1="246.2" x2="145.34" y2="247.1" class="mt"/>
<line x1="146.15" y1="246.2" x2="146.15" y2="247.1" class="mt"/>
<line x1="146.86" y1="246.2" x2="146.86" y2="247.1" class="mt"/>
<line x1="133.55" y1="246.2" x2="133.55" y2="247.6" class="ax"/>
<text x="0" y="0" class="yl" text-anchor="middle" style="font-size:6px" transform="translate(74.46,216.3) rotate(-90)">% of Max</text>
<path d="M91.7 191.1H147.5V246.2" class="fr"/>
<path d="M91.7 224C91.93 224.33 92.55 225.53 93.1 226C93.65 226.47 94.58 226.88 95 226.8C95.42 226.72 95.4 226.47 95.6 225.5C95.8 224.53 96 222.92 96.2 221C96.4 219.08 96.58 216.21 96.8 214C97.02 211.79 97.33 209.57 97.5 207.75C97.67 205.93 97.59 204.6 97.8 203.1C98.01 201.6 98.33 199.95 98.75 198.75C99.17 197.55 99.84 195.86 100.3 195.9C100.76 195.94 101.13 197.82 101.5 199C101.87 200.18 102.2 201.5 102.5 203C102.8 204.5 103.08 206.17 103.3 208C103.52 209.83 103.62 212.33 103.8 214C103.98 215.67 104.2 215.77 104.4 218C104.6 220.23 104.8 224.73 105 227.4C105.2 230.07 105.28 232.19 105.6 234C105.92 235.81 106.43 236.82 106.9 238.25C107.37 239.68 107.78 241.48 108.4 242.6C109.02 243.72 109.92 244.39 110.6 244.95C111.28 245.51 112.18 245.78 112.5 245.95" class="d"/>
<path d="M91.7 223.5C92.04 223.42 93.12 223.58 93.75 223C94.38 222.42 94.97 220.83 95.5 220C96.03 219.17 96.57 218.92 96.9 218C97.23 217.08 97.08 215.79 97.5 214.5C97.92 213.21 98.82 211.58 99.4 210.25C99.98 208.92 100.58 207.79 101 206.5C101.42 205.21 101.55 203.68 101.9 202.5C102.25 201.32 102.63 200.5 103.1 199.4C103.57 198.3 104.3 196.3 104.7 195.9C105.1 195.5 105.18 196.32 105.5 197C105.82 197.68 106.22 198.67 106.6 200C106.98 201.33 107.44 203.08 107.8 205C108.16 206.92 108.48 209.33 108.75 211.5C109.02 213.67 109.09 215.35 109.4 218C109.71 220.65 110.23 224.73 110.6 227.4C110.97 230.07 111.28 232.19 111.6 234C111.92 235.81 112.2 236.82 112.5 238.25C112.8 239.68 113.03 241.38 113.4 242.6C113.77 243.82 113.6 244.97 114.7 245.55C115.8 246.12 119.12 245.97 120 246.05" class="s"/>
<path d="M91.7 190.8V246.2H147.5" class="axb"/>
<text x="176.45" y="249.9" class="tk" text-anchor="middle">0</text>
<text x="176.45" y="238.97" class="tk" text-anchor="middle">20</text>
<text x="176.45" y="228.04" class="tk" text-anchor="middle">40</text>
<text x="176.45" y="217.11" class="tk" text-anchor="middle">60</text>
<text x="176.45" y="206.18" class="tk" text-anchor="middle">80</text>
<text x="176.45" y="195.25" class="tk" text-anchor="middle">100</text>
<line x1="183.4" y1="246.2" x2="184.8" y2="246.2" class="ax"/>
<line x1="183.4" y1="235.18" x2="184.8" y2="235.18" class="ax"/>
<line x1="183.4" y1="224.16" x2="184.8" y2="224.16" class="ax"/>
<line x1="183.4" y1="213.14" x2="184.8" y2="213.14" class="ax"/>
<line x1="183.4" y1="202.12" x2="184.8" y2="202.12" class="ax"/>
<line x1="183.4" y1="191.1" x2="184.8" y2="191.1" class="ax"/>
<line x1="183.9" y1="243.44" x2="184.8" y2="243.44" class="mt"/>
<line x1="183.9" y1="240.69" x2="184.8" y2="240.69" class="mt"/>
<line x1="183.9" y1="237.94" x2="184.8" y2="237.94" class="mt"/>
<line x1="183.9" y1="232.42" x2="184.8" y2="232.42" class="mt"/>
<line x1="183.9" y1="229.67" x2="184.8" y2="229.67" class="mt"/>
<line x1="183.9" y1="226.91" x2="184.8" y2="226.91" class="mt"/>
<line x1="183.9" y1="221.41" x2="184.8" y2="221.41" class="mt"/>
<line x1="183.9" y1="218.65" x2="184.8" y2="218.65" class="mt"/>
<line x1="183.9" y1="215.89" x2="184.8" y2="215.89" class="mt"/>
<line x1="183.9" y1="210.38" x2="184.8" y2="210.38" class="mt"/>
<line x1="183.9" y1="207.63" x2="184.8" y2="207.63" class="mt"/>
<line x1="183.9" y1="204.88" x2="184.8" y2="204.88" class="mt"/>
<line x1="183.9" y1="199.37" x2="184.8" y2="199.37" class="mt"/>
<line x1="183.9" y1="196.61" x2="184.8" y2="196.61" class="mt"/>
<line x1="183.9" y1="193.85" x2="184.8" y2="193.85" class="mt"/>
<text x="181.1" y="255.65" class="tk">10<tspan class="sp" dy="-1.7">0</tspan></text>
<text x="195.4" y="255.65" class="tk">10<tspan class="sp" dy="-1.7">1</tspan></text>
<text x="209.7" y="255.65" class="tk">10<tspan class="sp" dy="-1.7">2</tspan></text>
<text x="224" y="255.65" class="tk">10<tspan class="sp" dy="-1.7">3</tspan></text>
<text x="238.3" y="255.65" class="tk">10<tspan class="sp" dy="-1.7">4</tspan></text>
<line x1="189.05" y1="246.2" x2="189.05" y2="247.1" class="mt"/>
<line x1="191.54" y1="246.2" x2="191.54" y2="247.1" class="mt"/>
<line x1="193.3" y1="246.2" x2="193.3" y2="247.1" class="mt"/>
<line x1="194.67" y1="246.2" x2="194.67" y2="247.1" class="mt"/>
<line x1="195.79" y1="246.2" x2="195.79" y2="247.1" class="mt"/>
<line x1="196.74" y1="246.2" x2="196.74" y2="247.1" class="mt"/>
<line x1="197.56" y1="246.2" x2="197.56" y2="247.1" class="mt"/>
<line x1="198.28" y1="246.2" x2="198.28" y2="247.1" class="mt"/>
<line x1="184.8" y1="246.2" x2="184.8" y2="247.6" class="ax"/>
<line x1="203.18" y1="246.2" x2="203.18" y2="247.1" class="mt"/>
<line x1="205.66" y1="246.2" x2="205.66" y2="247.1" class="mt"/>
<line x1="207.43" y1="246.2" x2="207.43" y2="247.1" class="mt"/>
<line x1="208.8" y1="246.2" x2="208.8" y2="247.1" class="mt"/>
<line x1="209.92" y1="246.2" x2="209.92" y2="247.1" class="mt"/>
<line x1="210.86" y1="246.2" x2="210.86" y2="247.1" class="mt"/>
<line x1="211.68" y1="246.2" x2="211.68" y2="247.1" class="mt"/>
<line x1="212.4" y1="246.2" x2="212.4" y2="247.1" class="mt"/>
<line x1="198.93" y1="246.2" x2="198.93" y2="247.6" class="ax"/>
<line x1="217.3" y1="246.2" x2="217.3" y2="247.1" class="mt"/>
<line x1="219.79" y1="246.2" x2="219.79" y2="247.1" class="mt"/>
<line x1="221.55" y1="246.2" x2="221.55" y2="247.1" class="mt"/>
<line x1="222.92" y1="246.2" x2="222.92" y2="247.1" class="mt"/>
<line x1="224.04" y1="246.2" x2="224.04" y2="247.1" class="mt"/>
<line x1="224.99" y1="246.2" x2="224.99" y2="247.1" class="mt"/>
<line x1="225.81" y1="246.2" x2="225.81" y2="247.1" class="mt"/>
<line x1="226.53" y1="246.2" x2="226.53" y2="247.1" class="mt"/>
<line x1="213.05" y1="246.2" x2="213.05" y2="247.6" class="ax"/>
<line x1="231.43" y1="246.2" x2="231.43" y2="247.1" class="mt"/>
<line x1="233.91" y1="246.2" x2="233.91" y2="247.1" class="mt"/>
<line x1="235.68" y1="246.2" x2="235.68" y2="247.1" class="mt"/>
<line x1="237.05" y1="246.2" x2="237.05" y2="247.1" class="mt"/>
<line x1="238.17" y1="246.2" x2="238.17" y2="247.1" class="mt"/>
<line x1="239.11" y1="246.2" x2="239.11" y2="247.1" class="mt"/>
<line x1="239.93" y1="246.2" x2="239.93" y2="247.1" class="mt"/>
<line x1="240.65" y1="246.2" x2="240.65" y2="247.1" class="mt"/>
<line x1="227.18" y1="246.2" x2="227.18" y2="247.6" class="ax"/>
<text x="0" y="0" class="yl" text-anchor="middle" style="font-size:6px" transform="translate(167.71,216.4) rotate(-90)">% of Max</text>
<path d="M184.8 191.1H241.3V246.2" class="fr"/>
<path d="M184.8 224C185.12 224.03 186.23 224.12 186.7 224.2C187.17 224.28 187.35 224.7 187.6 224.5C187.85 224.3 188.03 223.48 188.2 223C188.37 222.52 188.43 222.87 188.6 221.6C188.77 220.33 188.93 217.5 189.2 215.4C189.47 213.3 189.88 210.83 190.2 209C190.52 207.17 190.8 205.9 191.1 204.4C191.4 202.9 191.53 201.36 192 200C192.47 198.64 193.38 196.25 193.9 196.25C194.42 196.25 194.82 198.71 195.1 200C195.38 201.29 195.43 202.83 195.6 204C195.77 205.17 195.87 205.1 196.1 207C196.33 208.9 196.77 212.9 197 215.4C197.23 217.9 197.23 219.33 197.5 222C197.77 224.67 198.37 228.73 198.6 231.4C198.83 234.07 198.68 236.3 198.9 238C199.12 239.7 199.47 240.56 199.9 241.6C200.33 242.64 200.9 243.74 201.5 244.25C202.1 244.76 202.7 244.76 203.5 244.65C204.3 244.54 205.27 243.77 206.3 243.6C207.33 243.43 208.57 243.38 209.7 243.6C210.83 243.82 211.82 244.61 213.1 244.95C214.38 245.29 215.73 245.47 217.4 245.65C219.07 245.83 222.15 245.98 223.1 246.05" class="d"/>
<path d="M184.8 241.5C185.37 241.3 187.12 240.82 188.2 240.3C189.28 239.78 190.52 238.9 191.3 238.4C192.08 237.9 192.16 237.63 192.9 237.3C193.64 236.97 194.86 236.77 195.75 236.4C196.64 236.03 197.53 235.73 198.25 235.1C198.97 234.47 199.47 233.74 200.1 232.6C200.72 231.46 201.32 230.02 202 228.25C202.68 226.48 203.57 224.14 204.2 222C204.82 219.86 205.23 218.07 205.75 215.4C206.27 212.73 206.83 208.88 207.3 206C207.78 203.12 208.23 199.98 208.6 198.1C208.97 196.22 209.14 194.38 209.5 194.7C209.86 195.02 210.43 198.12 210.75 200C211.07 201.88 210.98 203.43 211.4 206C211.82 208.57 212.8 212.9 213.25 215.4C213.7 217.9 213.81 219.65 214.1 221C214.39 222.35 214.53 221.85 215 223.5C215.47 225.15 216.28 228.62 216.9 230.9C217.52 233.18 218.08 235.32 218.7 237.2C219.32 239.08 219.87 240.92 220.6 242.2C221.33 243.47 222.07 244.26 223.1 244.85C224.13 245.44 224.82 245.57 226.8 245.75C228.78 245.93 233.63 245.92 235 245.95" class="s"/>
<path d="M184.8 190.8V246.2H241.3" class="axb"/>
<text x="265.55" y="249.9" class="tk" text-anchor="middle">0</text>
<text x="265.55" y="239.01" class="tk" text-anchor="middle">20</text>
<text x="265.55" y="228.12" class="tk" text-anchor="middle">40</text>
<text x="265.55" y="217.23" class="tk" text-anchor="middle">60</text>
<text x="265.55" y="206.34" class="tk" text-anchor="middle">80</text>
<text x="265.55" y="195.45" class="tk" text-anchor="middle">100</text>
<line x1="273.5" y1="246.2" x2="274.9" y2="246.2" class="ax"/>
<line x1="273.5" y1="235.22" x2="274.9" y2="235.22" class="ax"/>
<line x1="273.5" y1="224.24" x2="274.9" y2="224.24" class="ax"/>
<line x1="273.5" y1="213.26" x2="274.9" y2="213.26" class="ax"/>
<line x1="273.5" y1="202.28" x2="274.9" y2="202.28" class="ax"/>
<line x1="273.5" y1="191.3" x2="274.9" y2="191.3" class="ax"/>
<line x1="274" y1="243.45" x2="274.9" y2="243.45" class="mt"/>
<line x1="274" y1="240.71" x2="274.9" y2="240.71" class="mt"/>
<line x1="274" y1="237.97" x2="274.9" y2="237.97" class="mt"/>
<line x1="274" y1="232.47" x2="274.9" y2="232.47" class="mt"/>
<line x1="274" y1="229.73" x2="274.9" y2="229.73" class="mt"/>
<line x1="274" y1="226.99" x2="274.9" y2="226.99" class="mt"/>
<line x1="274" y1="221.5" x2="274.9" y2="221.5" class="mt"/>
<line x1="274" y1="218.75" x2="274.9" y2="218.75" class="mt"/>
<line x1="274" y1="216" x2="274.9" y2="216" class="mt"/>
<line x1="274" y1="210.51" x2="274.9" y2="210.51" class="mt"/>
<line x1="274" y1="207.77" x2="274.9" y2="207.77" class="mt"/>
<line x1="274" y1="205.03" x2="274.9" y2="205.03" class="mt"/>
<line x1="274" y1="199.54" x2="274.9" y2="199.54" class="mt"/>
<line x1="274" y1="196.79" x2="274.9" y2="196.79" class="mt"/>
<line x1="274" y1="194.05" x2="274.9" y2="194.05" class="mt"/>
<text x="270.6" y="255.65" class="tk">10<tspan class="sp" dy="-1.7">0</tspan></text>
<text x="284.9" y="255.65" class="tk">10<tspan class="sp" dy="-1.7">1</tspan></text>
<text x="299.2" y="255.65" class="tk">10<tspan class="sp" dy="-1.7">2</tspan></text>
<text x="313.5" y="255.65" class="tk">10<tspan class="sp" dy="-1.7">3</tspan></text>
<text x="327.8" y="255.65" class="tk">10<tspan class="sp" dy="-1.7">4</tspan></text>
<line x1="279.11" y1="246.2" x2="279.11" y2="247.1" class="mt"/>
<line x1="281.58" y1="246.2" x2="281.58" y2="247.1" class="mt"/>
<line x1="283.33" y1="246.2" x2="283.33" y2="247.1" class="mt"/>
<line x1="284.69" y1="246.2" x2="284.69" y2="247.1" class="mt"/>
<line x1="285.79" y1="246.2" x2="285.79" y2="247.1" class="mt"/>
<line x1="286.73" y1="246.2" x2="286.73" y2="247.1" class="mt"/>
<line x1="287.54" y1="246.2" x2="287.54" y2="247.1" class="mt"/>
<line x1="288.26" y1="246.2" x2="288.26" y2="247.1" class="mt"/>
<line x1="274.9" y1="246.2" x2="274.9" y2="247.6" class="ax"/>
<line x1="293.11" y1="246.2" x2="293.11" y2="247.1" class="mt"/>
<line x1="295.58" y1="246.2" x2="295.58" y2="247.1" class="mt"/>
<line x1="297.33" y1="246.2" x2="297.33" y2="247.1" class="mt"/>
<line x1="298.69" y1="246.2" x2="298.69" y2="247.1" class="mt"/>
<line x1="299.79" y1="246.2" x2="299.79" y2="247.1" class="mt"/>
<line x1="300.73" y1="246.2" x2="300.73" y2="247.1" class="mt"/>
<line x1="301.54" y1="246.2" x2="301.54" y2="247.1" class="mt"/>
<line x1="302.26" y1="246.2" x2="302.26" y2="247.1" class="mt"/>
<line x1="288.9" y1="246.2" x2="288.9" y2="247.6" class="ax"/>
<line x1="307.11" y1="246.2" x2="307.11" y2="247.1" class="mt"/>
<line x1="309.58" y1="246.2" x2="309.58" y2="247.1" class="mt"/>
<line x1="311.33" y1="246.2" x2="311.33" y2="247.1" class="mt"/>
<line x1="312.69" y1="246.2" x2="312.69" y2="247.1" class="mt"/>
<line x1="313.79" y1="246.2" x2="313.79" y2="247.1" class="mt"/>
<line x1="314.73" y1="246.2" x2="314.73" y2="247.1" class="mt"/>
<line x1="315.54" y1="246.2" x2="315.54" y2="247.1" class="mt"/>
<line x1="316.26" y1="246.2" x2="316.26" y2="247.1" class="mt"/>
<line x1="302.9" y1="246.2" x2="302.9" y2="247.6" class="ax"/>
<line x1="321.11" y1="246.2" x2="321.11" y2="247.1" class="mt"/>
<line x1="323.58" y1="246.2" x2="323.58" y2="247.1" class="mt"/>
<line x1="325.33" y1="246.2" x2="325.33" y2="247.1" class="mt"/>
<line x1="326.69" y1="246.2" x2="326.69" y2="247.1" class="mt"/>
<line x1="327.79" y1="246.2" x2="327.79" y2="247.1" class="mt"/>
<line x1="328.73" y1="246.2" x2="328.73" y2="247.1" class="mt"/>
<line x1="329.54" y1="246.2" x2="329.54" y2="247.1" class="mt"/>
<line x1="330.26" y1="246.2" x2="330.26" y2="247.1" class="mt"/>
<line x1="316.9" y1="246.2" x2="316.9" y2="247.6" class="ax"/>
<text x="0" y="0" class="yl" text-anchor="middle" style="font-size:6px" transform="translate(257.56,220.25) rotate(-90)">% of Max</text>
<path d="M274.9 191.3H330.9V246.2" class="fr"/>
<path d="M274.9 224.3C275.25 224.17 276.4 224.22 277 223.5C277.6 222.78 278.13 221.18 278.5 220C278.87 218.82 278.83 218.25 279.2 216.4C279.57 214.55 280.23 211.38 280.7 208.9C281.17 206.42 281.53 203.68 282 201.5C282.47 199.32 283.08 196.22 283.5 195.8C283.92 195.38 284.13 197.02 284.5 199C284.87 200.98 285.3 205 285.7 207.7C286.1 210.4 286.58 212.98 286.9 215.2C287.22 217.42 287.38 218.78 287.6 221C287.82 223.22 287.9 225.6 288.2 228.5C288.5 231.4 289.03 236.1 289.4 238.4C289.77 240.7 289.93 241.24 290.4 242.3C290.87 243.36 291.52 244.41 292.2 244.75C292.88 245.09 293.73 244.56 294.5 244.35C295.27 244.14 295.92 243.62 296.8 243.5C297.68 243.38 298.87 243.36 299.8 243.6C300.73 243.84 301.33 244.56 302.4 244.95C303.47 245.34 305.57 245.78 306.2 245.95" class="d"/>
<path d="M274.9 242.2C275.25 241.88 276.03 240.93 277 240.3C277.97 239.67 279.45 239.03 280.7 238.4C281.95 237.77 283.25 237.12 284.5 236.5C285.75 235.88 287.27 235.42 288.2 234.7C289.13 233.98 289.48 233.23 290.1 232.2C290.72 231.17 291.35 229.95 291.9 228.5C292.45 227.05 292.98 225.08 293.4 223.5C293.82 221.92 294.07 220.38 294.4 219C294.73 217.62 295.02 217.08 295.4 215.2C295.78 213.32 296.28 209.98 296.7 207.7C297.12 205.42 297.55 203.68 297.9 201.5C298.25 199.32 298.38 194.6 298.8 194.6C299.22 194.6 299.88 198.9 300.4 201.5C300.92 204.1 301.33 207.3 301.9 210.2C302.47 213.1 303.25 216.27 303.8 218.9C304.35 221.53 304.63 223.48 305.2 226C305.77 228.52 306.52 231.67 307.2 234C307.88 236.33 308.5 238.22 309.3 240C310.1 241.78 311.05 243.64 312 244.65C312.95 245.66 312.83 245.78 315 246.05C317.17 246.32 323.33 246.22 325 246.25" class="s"/>
<path d="M274.9 191V246.2H330.9" class="axb"/>
<text x="356.45" y="249.9" class="tk" text-anchor="middle">0</text>
<text x="356.45" y="239.07" class="tk" text-anchor="middle">20</text>
<text x="356.45" y="228.24" class="tk" text-anchor="middle">40</text>
<text x="356.45" y="217.41" class="tk" text-anchor="middle">60</text>
<text x="356.45" y="206.58" class="tk" text-anchor="middle">80</text>
<text x="356.45" y="195.75" class="tk" text-anchor="middle">100</text>
<line x1="363" y1="246.2" x2="364.4" y2="246.2" class="ax"/>
<line x1="363" y1="235.28" x2="364.4" y2="235.28" class="ax"/>
<line x1="363" y1="224.36" x2="364.4" y2="224.36" class="ax"/>
<line x1="363" y1="213.44" x2="364.4" y2="213.44" class="ax"/>
<line x1="363" y1="202.52" x2="364.4" y2="202.52" class="ax"/>
<line x1="363" y1="191.6" x2="364.4" y2="191.6" class="ax"/>
<line x1="363.5" y1="243.47" x2="364.4" y2="243.47" class="mt"/>
<line x1="363.5" y1="240.74" x2="364.4" y2="240.74" class="mt"/>
<line x1="363.5" y1="238.01" x2="364.4" y2="238.01" class="mt"/>
<line x1="363.5" y1="232.55" x2="364.4" y2="232.55" class="mt"/>
<line x1="363.5" y1="229.82" x2="364.4" y2="229.82" class="mt"/>
<line x1="363.5" y1="227.09" x2="364.4" y2="227.09" class="mt"/>
<line x1="363.5" y1="221.63" x2="364.4" y2="221.63" class="mt"/>
<line x1="363.5" y1="218.9" x2="364.4" y2="218.9" class="mt"/>
<line x1="363.5" y1="216.17" x2="364.4" y2="216.17" class="mt"/>
<line x1="363.5" y1="210.71" x2="364.4" y2="210.71" class="mt"/>
<line x1="363.5" y1="207.98" x2="364.4" y2="207.98" class="mt"/>
<line x1="363.5" y1="205.25" x2="364.4" y2="205.25" class="mt"/>
<line x1="363.5" y1="199.79" x2="364.4" y2="199.79" class="mt"/>
<line x1="363.5" y1="197.06" x2="364.4" y2="197.06" class="mt"/>
<line x1="363.5" y1="194.33" x2="364.4" y2="194.33" class="mt"/>
<text x="361.1" y="255.65" class="tk">10<tspan class="sp" dy="-1.7">0</tspan></text>
<text x="375.25" y="255.65" class="tk">10<tspan class="sp" dy="-1.7">1</tspan></text>
<text x="389.4" y="255.65" class="tk">10<tspan class="sp" dy="-1.7">2</tspan></text>
<text x="403.55" y="255.65" class="tk">10<tspan class="sp" dy="-1.7">3</tspan></text>
<text x="417.7" y="255.65" class="tk">10<tspan class="sp" dy="-1.7">4</tspan></text>
<line x1="368.81" y1="246.2" x2="368.81" y2="247.1" class="mt"/>
<line x1="371.39" y1="246.2" x2="371.39" y2="247.1" class="mt"/>
<line x1="373.22" y1="246.2" x2="373.22" y2="247.1" class="mt"/>
<line x1="374.64" y1="246.2" x2="374.64" y2="247.1" class="mt"/>
<line x1="375.8" y1="246.2" x2="375.8" y2="247.1" class="mt"/>
<line x1="376.78" y1="246.2" x2="376.78" y2="247.1" class="mt"/>
<line x1="377.63" y1="246.2" x2="377.63" y2="247.1" class="mt"/>
<line x1="378.38" y1="246.2" x2="378.38" y2="247.1" class="mt"/>
<line x1="364.4" y1="246.2" x2="364.4" y2="247.6" class="ax"/>
<line x1="383.46" y1="246.2" x2="383.46" y2="247.1" class="mt"/>
<line x1="386.04" y1="246.2" x2="386.04" y2="247.1" class="mt"/>
<line x1="387.87" y1="246.2" x2="387.87" y2="247.1" class="mt"/>
<line x1="389.29" y1="246.2" x2="389.29" y2="247.1" class="mt"/>
<line x1="390.45" y1="246.2" x2="390.45" y2="247.1" class="mt"/>
<line x1="391.43" y1="246.2" x2="391.43" y2="247.1" class="mt"/>
<line x1="392.28" y1="246.2" x2="392.28" y2="247.1" class="mt"/>
<line x1="393.03" y1="246.2" x2="393.03" y2="247.1" class="mt"/>
<line x1="379.05" y1="246.2" x2="379.05" y2="247.6" class="ax"/>
<line x1="398.11" y1="246.2" x2="398.11" y2="247.1" class="mt"/>
<line x1="400.69" y1="246.2" x2="400.69" y2="247.1" class="mt"/>
<line x1="402.52" y1="246.2" x2="402.52" y2="247.1" class="mt"/>
<line x1="403.94" y1="246.2" x2="403.94" y2="247.1" class="mt"/>
<line x1="405.1" y1="246.2" x2="405.1" y2="247.1" class="mt"/>
<line x1="406.08" y1="246.2" x2="406.08" y2="247.1" class="mt"/>
<line x1="406.93" y1="246.2" x2="406.93" y2="247.1" class="mt"/>
<line x1="407.68" y1="246.2" x2="407.68" y2="247.1" class="mt"/>
<line x1="393.7" y1="246.2" x2="393.7" y2="247.6" class="ax"/>
<line x1="412.76" y1="246.2" x2="412.76" y2="247.1" class="mt"/>
<line x1="415.34" y1="246.2" x2="415.34" y2="247.1" class="mt"/>
<line x1="417.17" y1="246.2" x2="417.17" y2="247.1" class="mt"/>
<line x1="418.59" y1="246.2" x2="418.59" y2="247.1" class="mt"/>
<line x1="419.75" y1="246.2" x2="419.75" y2="247.1" class="mt"/>
<line x1="420.73" y1="246.2" x2="420.73" y2="247.1" class="mt"/>
<line x1="421.58" y1="246.2" x2="421.58" y2="247.1" class="mt"/>
<line x1="422.33" y1="246.2" x2="422.33" y2="247.1" class="mt"/>
<line x1="408.35" y1="246.2" x2="408.35" y2="247.6" class="ax"/>
<text x="0" y="0" class="yl" text-anchor="middle" style="font-size:6px" transform="translate(347.56,216.25) rotate(-90)">% of Max</text>
<path d="M364.4 191.6H423V246.2" class="fr"/>
<path d="M364.4 232.9C364.73 232.98 365.87 233.45 366.4 233.4C366.93 233.35 367.27 233.25 367.6 232.6C367.93 231.95 368.18 230.43 368.4 229.5C368.62 228.57 368.72 228 368.9 227C369.08 226 369.25 224.75 369.5 223.5C369.75 222.25 370.03 220.88 370.4 219.5C370.77 218.12 371.27 217.17 371.7 215.2C372.13 213.23 372.53 210.2 373 207.7C373.47 205.2 373.95 202.38 374.5 200.2C375.05 198.02 375.68 194.6 376.3 194.6C376.92 194.6 377.63 197.82 378.2 200.2C378.77 202.58 379.18 206.3 379.7 208.9C380.22 211.5 380.72 214.13 381.3 215.8C381.88 217.47 382.72 218.27 383.2 218.9C383.68 219.53 383.78 219.83 384.2 219.6C384.62 219.37 385.25 217.27 385.7 217.5C386.15 217.73 386.38 218.97 386.9 221C387.42 223.03 388.18 226.9 388.8 229.7C389.42 232.5 389.88 236.25 390.6 237.8C391.32 239.35 392.27 238.9 393.1 239C393.93 239.1 394.77 238.18 395.6 238.4C396.43 238.62 397.27 239.57 398.1 240.3C398.93 241.03 399.57 242.01 400.6 242.8C401.63 243.59 403.05 244.52 404.3 245.05C405.55 245.57 407.47 245.8 408.1 245.95" class="d"/>
<path d="M364.4 245.05C364.83 244.77 366.07 243.82 367 243.4C367.93 242.98 369.08 242.77 370 242.5C370.92 242.23 371.65 242.13 372.5 241.8C373.35 241.47 374.25 241.08 375.1 240.5C375.95 239.92 376.77 239.37 377.6 238.3C378.43 237.23 379.37 235.53 380.1 234.1C380.83 232.67 381.42 231.1 382 229.75C382.58 228.4 383.18 227.54 383.6 226C384.02 224.46 384.2 222.1 384.5 220.5C384.8 218.9 385.03 218.12 385.4 216.4C385.77 214.68 386.23 212.68 386.7 210.2C387.17 207.72 387.75 204.1 388.2 201.5C388.65 198.9 388.95 194.6 389.4 194.6C389.85 194.6 390.38 198.7 390.9 201.5C391.42 204.3 392.02 208.78 392.5 211.4C392.98 214.02 393.38 214.57 393.8 217.2C394.22 219.83 394.48 224.08 395 227.2C395.52 230.32 396.28 233.62 396.9 235.9C397.52 238.18 397.98 239.48 398.7 240.9C399.42 242.32 400.15 243.61 401.2 244.45C402.25 245.29 402.7 245.68 405 245.95C407.3 246.22 413.33 246.03 415 246.05" class="s"/>
<path d="M364.4 191.3V246.2H423" class="axb"/>
<text x="444.8" y="249.9" class="tk" text-anchor="middle">0</text>
<text x="444.8" y="239.09" class="tk" text-anchor="middle">20</text>
<text x="444.8" y="228.28" class="tk" text-anchor="middle">40</text>
<text x="444.8" y="217.47" class="tk" text-anchor="middle">60</text>
<text x="444.8" y="206.66" class="tk" text-anchor="middle">80</text>
<text x="444.8" y="195.85" class="tk" text-anchor="middle">100</text>
<line x1="451.4" y1="246.2" x2="452.8" y2="246.2" class="ax"/>
<line x1="451.4" y1="235.3" x2="452.8" y2="235.3" class="ax"/>
<line x1="451.4" y1="224.4" x2="452.8" y2="224.4" class="ax"/>
<line x1="451.4" y1="213.5" x2="452.8" y2="213.5" class="ax"/>
<line x1="451.4" y1="202.6" x2="452.8" y2="202.6" class="ax"/>
<line x1="451.4" y1="191.7" x2="452.8" y2="191.7" class="ax"/>
<line x1="451.9" y1="243.47" x2="452.8" y2="243.47" class="mt"/>
<line x1="451.9" y1="240.75" x2="452.8" y2="240.75" class="mt"/>
<line x1="451.9" y1="238.02" x2="452.8" y2="238.02" class="mt"/>
<line x1="451.9" y1="232.57" x2="452.8" y2="232.57" class="mt"/>
<line x1="451.9" y1="229.85" x2="452.8" y2="229.85" class="mt"/>
<line x1="451.9" y1="227.12" x2="452.8" y2="227.12" class="mt"/>
<line x1="451.9" y1="221.67" x2="452.8" y2="221.67" class="mt"/>
<line x1="451.9" y1="218.95" x2="452.8" y2="218.95" class="mt"/>
<line x1="451.9" y1="216.22" x2="452.8" y2="216.22" class="mt"/>
<line x1="451.9" y1="210.77" x2="452.8" y2="210.77" class="mt"/>
<line x1="451.9" y1="208.05" x2="452.8" y2="208.05" class="mt"/>
<line x1="451.9" y1="205.32" x2="452.8" y2="205.32" class="mt"/>
<line x1="451.9" y1="199.88" x2="452.8" y2="199.88" class="mt"/>
<line x1="451.9" y1="197.15" x2="452.8" y2="197.15" class="mt"/>
<line x1="451.9" y1="194.42" x2="452.8" y2="194.42" class="mt"/>
<text x="451.7" y="255.65" class="tk">10<tspan class="sp" dy="-1.7">0</tspan></text>
<text x="465.85" y="255.65" class="tk">10<tspan class="sp" dy="-1.7">1</tspan></text>
<text x="480" y="255.65" class="tk">10<tspan class="sp" dy="-1.7">2</tspan></text>
<text x="494.15" y="255.65" class="tk">10<tspan class="sp" dy="-1.7">3</tspan></text>
<text x="508.3" y="255.65" class="tk">10<tspan class="sp" dy="-1.7">4</tspan></text>
<line x1="457.19" y1="246.2" x2="457.19" y2="247.1" class="mt"/>
<line x1="459.75" y1="246.2" x2="459.75" y2="247.1" class="mt"/>
<line x1="461.58" y1="246.2" x2="461.58" y2="247.1" class="mt"/>
<line x1="462.99" y1="246.2" x2="462.99" y2="247.1" class="mt"/>
<line x1="464.14" y1="246.2" x2="464.14" y2="247.1" class="mt"/>
<line x1="465.12" y1="246.2" x2="465.12" y2="247.1" class="mt"/>
<line x1="465.96" y1="246.2" x2="465.96" y2="247.1" class="mt"/>
<line x1="466.71" y1="246.2" x2="466.71" y2="247.1" class="mt"/>
<line x1="452.8" y1="246.2" x2="452.8" y2="247.6" class="ax"/>
<line x1="471.76" y1="246.2" x2="471.76" y2="247.1" class="mt"/>
<line x1="474.33" y1="246.2" x2="474.33" y2="247.1" class="mt"/>
<line x1="476.15" y1="246.2" x2="476.15" y2="247.1" class="mt"/>
<line x1="477.56" y1="246.2" x2="477.56" y2="247.1" class="mt"/>
<line x1="478.72" y1="246.2" x2="478.72" y2="247.1" class="mt"/>
<line x1="479.69" y1="246.2" x2="479.69" y2="247.1" class="mt"/>
<line x1="480.54" y1="246.2" x2="480.54" y2="247.1" class="mt"/>
<line x1="481.28" y1="246.2" x2="481.28" y2="247.1" class="mt"/>
<line x1="467.38" y1="246.2" x2="467.38" y2="247.6" class="ax"/>
<line x1="486.34" y1="246.2" x2="486.34" y2="247.1" class="mt"/>
<line x1="488.9" y1="246.2" x2="488.9" y2="247.1" class="mt"/>
<line x1="490.73" y1="246.2" x2="490.73" y2="247.1" class="mt"/>
<line x1="492.14" y1="246.2" x2="492.14" y2="247.1" class="mt"/>
<line x1="493.29" y1="246.2" x2="493.29" y2="247.1" class="mt"/>
<line x1="494.27" y1="246.2" x2="494.27" y2="247.1" class="mt"/>
<line x1="495.11" y1="246.2" x2="495.11" y2="247.1" class="mt"/>
<line x1="495.86" y1="246.2" x2="495.86" y2="247.1" class="mt"/>
<line x1="481.95" y1="246.2" x2="481.95" y2="247.6" class="ax"/>
<line x1="500.91" y1="246.2" x2="500.91" y2="247.1" class="mt"/>
<line x1="503.48" y1="246.2" x2="503.48" y2="247.1" class="mt"/>
<line x1="505.3" y1="246.2" x2="505.3" y2="247.1" class="mt"/>
<line x1="506.71" y1="246.2" x2="506.71" y2="247.1" class="mt"/>
<line x1="507.87" y1="246.2" x2="507.87" y2="247.1" class="mt"/>
<line x1="508.84" y1="246.2" x2="508.84" y2="247.1" class="mt"/>
<line x1="509.69" y1="246.2" x2="509.69" y2="247.1" class="mt"/>
<line x1="510.43" y1="246.2" x2="510.43" y2="247.1" class="mt"/>
<line x1="496.53" y1="246.2" x2="496.53" y2="247.6" class="ax"/>
<text x="0" y="0" class="yl" text-anchor="middle" style="font-size:6px" transform="translate(435.86,216.6) rotate(-90)">% of Max</text>
<path d="M452.8 191.7H511.1V246.2" class="fr"/>
<path d="M452.8 231C452.92 230.92 453.03 231.75 453.5 230.5C453.97 229.25 455.02 225.5 455.6 223.5C456.18 221.5 456.52 220 457 218.5C457.48 217 458 216.3 458.5 214.5C459 212.7 459.5 210.08 460 207.7C460.5 205.32 460.98 202.28 461.5 200.2C462.02 198.12 462.57 195.4 463.1 195.2C463.63 195 464.18 196.92 464.7 199C465.22 201.08 465.75 205 466.2 207.7C466.65 210.4 467.03 213.48 467.4 215.2C467.77 216.92 468.02 216.42 468.4 218C468.78 219.58 469.23 222.33 469.7 224.7C470.17 227.07 470.65 230.53 471.2 232.2C471.75 233.87 472.28 233.98 473 234.7C473.72 235.42 474.77 235.57 475.5 236.5C476.23 237.43 476.67 239.25 477.4 240.3C478.13 241.35 478.87 242.28 479.9 242.8C480.93 243.32 482.47 243.4 483.6 243.4C484.73 243.4 485.65 242.53 486.7 242.8C487.75 243.08 488.85 244.52 489.9 245.05C490.95 245.57 492.48 245.8 493 245.95" class="d"/>
<path d="M452.8 241.5C453.27 241.3 454.72 241.02 455.6 240.3C456.48 239.58 457.27 238.35 458.1 237.2C458.93 236.05 459.83 234.47 460.6 233.4C461.37 232.33 462.05 231.82 462.7 230.8C463.35 229.78 463.92 228.32 464.5 227.3C465.08 226.28 465.72 225.75 466.2 224.7C466.68 223.65 467.03 222.25 467.4 221C467.77 219.75 468.08 218.07 468.4 217.2C468.72 216.33 468.95 216.35 469.3 215.8C469.65 215.25 470.08 215.05 470.5 213.9C470.92 212.75 471.38 210.35 471.8 208.9C472.22 207.45 472.58 206.85 473 205.2C473.42 203.55 473.88 200.67 474.3 199C474.72 197.33 475.03 195 475.5 195.2C475.97 195.4 476.62 198.12 477.1 200.2C477.58 202.28 477.98 205.42 478.4 207.7C478.82 209.98 479.25 212.18 479.6 213.9C479.95 215.62 480.13 215.78 480.5 218C480.87 220.22 481.28 224.42 481.8 227.2C482.32 229.98 482.87 232.47 483.6 234.7C484.33 236.93 485.33 239.12 486.2 240.6C487.07 242.08 487.92 242.76 488.8 243.6C489.68 244.44 490.63 245.22 491.5 245.65C492.37 246.07 492.58 246.05 494 246.15C495.42 246.25 499 246.23 500 246.25" class="s"/>
<path d="M452.8 191.4V246.2H511.1" class="axb"/>
<text x="139.3" y="31.5" class="pl" text-anchor="middle" style="font-size:12.4px">A</text>
<text x="140.4" y="126.9" class="pl" text-anchor="middle" style="font-size:12.3px">B</text>
<text x="234" y="127.3" class="pl" text-anchor="middle" style="font-size:12.3px">C</text>
<text x="324.3" y="127.3" class="pl" text-anchor="middle" style="font-size:12.3px">D</text>
<text x="420.5" y="127.7" class="pl" text-anchor="middle" style="font-size:12.3px">E</text>
<text x="504.5" y="127.7" class="pl" text-anchor="middle" style="font-size:12.3px">F</text>
<text x="140.7" y="203.5" class="pl" text-anchor="middle" style="font-size:12.3px">G</text>
<text x="234.6" y="203.2" class="pl" text-anchor="middle" style="font-size:12.3px">H</text>
<text x="326.6" y="203.8" class="pl" text-anchor="middle" style="font-size:12.3px">I</text>
<text x="417" y="203.2" class="pl" text-anchor="middle" style="font-size:12.3px">J</text>
<text x="503.8" y="203.2" class="pl" text-anchor="middle" style="font-size:12.3px">K</text>
</svg>
</body></html>
